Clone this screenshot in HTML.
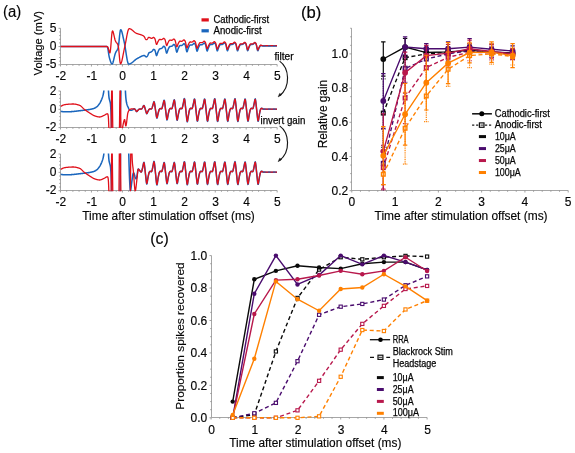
<!DOCTYPE html><html><head><meta charset="utf-8"><style>html,body{margin:0;padding:0;background:#fff;width:575px;height:453px;overflow:hidden;position:relative}</style></head><body><svg width="575" height="453" viewBox="0 0 575 453" style="position:absolute;left:0;top:0;font-family:'Liberation Sans', sans-serif;filter:blur(0.3px)">
<rect width="575" height="453" fill="#ffffff"/>
<defs>
<clipPath id="ca0"><rect x="60.5" y="27.8" width="217.65" height="37.5"/></clipPath>
<clipPath id="ca1"><rect x="60.5" y="90.5" width="217.65" height="37.6"/></clipPath>
<clipPath id="ca2"><rect x="60.5" y="153.5" width="217.65" height="37.7"/></clipPath>
</defs>
<path d="M60.5 28.3 V64.5 H277.15" stroke="#a6a6a6" stroke-width="1" fill="none"/>
<path d="M60.5 28.3 h-2 M60.5 31.95 h-1.3 M60.5 35.6 h-1.3 M60.5 39.25 h-1.3 M60.5 42.9 h-1.3 M60.5 46.55 h-2 M60.5 50.2 h-1.3 M60.5 53.85 h-1.3 M60.5 57.5 h-1.3 M60.5 61.15 h-1.3 M60.5 64.8 h-2 M60.5 64.5 v2 M66.69 64.5 v1.3 M72.88 64.5 v1.3 M79.07 64.5 v1.3 M85.26 64.5 v1.3 M91.45 64.5 v2 M97.64 64.5 v1.3 M103.83 64.5 v1.3 M110.02 64.5 v1.3 M116.21 64.5 v1.3 M122.4 64.5 v2 M128.59 64.5 v1.3 M134.78 64.5 v1.3 M140.97 64.5 v1.3 M147.16 64.5 v1.3 M153.35 64.5 v2 M159.54 64.5 v1.3 M165.73 64.5 v1.3 M171.92 64.5 v1.3 M178.11 64.5 v1.3 M184.3 64.5 v2 M190.49 64.5 v1.3 M196.68 64.5 v1.3 M202.87 64.5 v1.3 M209.06 64.5 v1.3 M215.25 64.5 v2 M221.44 64.5 v1.3 M227.63 64.5 v1.3 M233.82 64.5 v1.3 M240.01 64.5 v1.3 M246.2 64.5 v2 M252.39 64.5 v1.3 M258.58 64.5 v1.3 M264.77 64.5 v1.3 M270.96 64.5 v1.3 M277.15 64.5 v2" stroke="#8a8a8a" stroke-width="0.8" fill="none"/>
<text x="56.5" y="31.9" font-size="12" text-anchor="end" fill="#050505" stroke="#050505" stroke-width="0.15" >5</text>
<text x="56.5" y="50.1" font-size="12" text-anchor="end" fill="#050505" stroke="#050505" stroke-width="0.15" >0</text>
<text x="56.5" y="68.4" font-size="12" text-anchor="end" fill="#050505" stroke="#050505" stroke-width="0.15" >-5</text>
<text x="60.8" y="80.1" font-size="12" text-anchor="middle" fill="#050505" stroke="#050505" stroke-width="0.15" >-2</text>
<text x="91.75" y="80.1" font-size="12" text-anchor="middle" fill="#050505" stroke="#050505" stroke-width="0.15" >-1</text>
<text x="122.7" y="80.1" font-size="12" text-anchor="middle" fill="#050505" stroke="#050505" stroke-width="0.15" >0</text>
<text x="153.65" y="80.1" font-size="12" text-anchor="middle" fill="#050505" stroke="#050505" stroke-width="0.15" >1</text>
<text x="184.6" y="80.1" font-size="12" text-anchor="middle" fill="#050505" stroke="#050505" stroke-width="0.15" >2</text>
<text x="215.55" y="80.1" font-size="12" text-anchor="middle" fill="#050505" stroke="#050505" stroke-width="0.15" >3</text>
<text x="246.5" y="80.1" font-size="12" text-anchor="middle" fill="#050505" stroke="#050505" stroke-width="0.15" >4</text>
<text x="277.45" y="80.1" font-size="12" text-anchor="middle" fill="#050505" stroke="#050505" stroke-width="0.15" >5</text>
<path d="M60.5 91 V127.5 H277.15" stroke="#a6a6a6" stroke-width="1" fill="none"/>
<path d="M60.5 91 h-2 M60.5 94.66 h-1.3 M60.5 98.32 h-1.3 M60.5 101.98 h-1.3 M60.5 105.64 h-1.3 M60.5 109.3 h-2 M60.5 112.96 h-1.3 M60.5 116.62 h-1.3 M60.5 120.28 h-1.3 M60.5 123.94 h-1.3 M60.5 127.6 h-2 M60.5 127.5 v2 M66.69 127.5 v1.3 M72.88 127.5 v1.3 M79.07 127.5 v1.3 M85.26 127.5 v1.3 M91.45 127.5 v2 M97.64 127.5 v1.3 M103.83 127.5 v1.3 M110.02 127.5 v1.3 M116.21 127.5 v1.3 M122.4 127.5 v2 M128.59 127.5 v1.3 M134.78 127.5 v1.3 M140.97 127.5 v1.3 M147.16 127.5 v1.3 M153.35 127.5 v2 M159.54 127.5 v1.3 M165.73 127.5 v1.3 M171.92 127.5 v1.3 M178.11 127.5 v1.3 M184.3 127.5 v2 M190.49 127.5 v1.3 M196.68 127.5 v1.3 M202.87 127.5 v1.3 M209.06 127.5 v1.3 M215.25 127.5 v2 M221.44 127.5 v1.3 M227.63 127.5 v1.3 M233.82 127.5 v1.3 M240.01 127.5 v1.3 M246.2 127.5 v2 M252.39 127.5 v1.3 M258.58 127.5 v1.3 M264.77 127.5 v1.3 M270.96 127.5 v1.3 M277.15 127.5 v2" stroke="#8a8a8a" stroke-width="0.8" fill="none"/>
<text x="56.5" y="94.6" font-size="12" text-anchor="end" fill="#050505" stroke="#050505" stroke-width="0.15" >2</text>
<text x="56.5" y="112.8" font-size="12" text-anchor="end" fill="#050505" stroke="#050505" stroke-width="0.15" >0</text>
<text x="56.5" y="131.2" font-size="12" text-anchor="end" fill="#050505" stroke="#050505" stroke-width="0.15" >-2</text>
<text x="60.8" y="142.9" font-size="12" text-anchor="middle" fill="#050505" stroke="#050505" stroke-width="0.15" >-2</text>
<text x="91.75" y="142.9" font-size="12" text-anchor="middle" fill="#050505" stroke="#050505" stroke-width="0.15" >-1</text>
<text x="122.7" y="142.9" font-size="12" text-anchor="middle" fill="#050505" stroke="#050505" stroke-width="0.15" >0</text>
<text x="153.65" y="142.9" font-size="12" text-anchor="middle" fill="#050505" stroke="#050505" stroke-width="0.15" >1</text>
<text x="184.6" y="142.9" font-size="12" text-anchor="middle" fill="#050505" stroke="#050505" stroke-width="0.15" >2</text>
<text x="215.55" y="142.9" font-size="12" text-anchor="middle" fill="#050505" stroke="#050505" stroke-width="0.15" >3</text>
<text x="246.5" y="142.9" font-size="12" text-anchor="middle" fill="#050505" stroke="#050505" stroke-width="0.15" >4</text>
<text x="277.45" y="142.9" font-size="12" text-anchor="middle" fill="#050505" stroke="#050505" stroke-width="0.15" >5</text>
<path d="M60.5 154 V190.5 H277.15" stroke="#a6a6a6" stroke-width="1" fill="none"/>
<path d="M60.5 154 h-2 M60.5 157.67 h-1.3 M60.5 161.34 h-1.3 M60.5 165.01 h-1.3 M60.5 168.68 h-1.3 M60.5 172.35 h-2 M60.5 176.02 h-1.3 M60.5 179.69 h-1.3 M60.5 183.36 h-1.3 M60.5 187.03 h-1.3 M60.5 190.7 h-2 M60.5 190.5 v2 M66.69 190.5 v1.3 M72.88 190.5 v1.3 M79.07 190.5 v1.3 M85.26 190.5 v1.3 M91.45 190.5 v2 M97.64 190.5 v1.3 M103.83 190.5 v1.3 M110.02 190.5 v1.3 M116.21 190.5 v1.3 M122.4 190.5 v2 M128.59 190.5 v1.3 M134.78 190.5 v1.3 M140.97 190.5 v1.3 M147.16 190.5 v1.3 M153.35 190.5 v2 M159.54 190.5 v1.3 M165.73 190.5 v1.3 M171.92 190.5 v1.3 M178.11 190.5 v1.3 M184.3 190.5 v2 M190.49 190.5 v1.3 M196.68 190.5 v1.3 M202.87 190.5 v1.3 M209.06 190.5 v1.3 M215.25 190.5 v2 M221.44 190.5 v1.3 M227.63 190.5 v1.3 M233.82 190.5 v1.3 M240.01 190.5 v1.3 M246.2 190.5 v2 M252.39 190.5 v1.3 M258.58 190.5 v1.3 M264.77 190.5 v1.3 M270.96 190.5 v1.3 M277.15 190.5 v2" stroke="#8a8a8a" stroke-width="0.8" fill="none"/>
<text x="56.5" y="157.6" font-size="12" text-anchor="end" fill="#050505" stroke="#050505" stroke-width="0.15" >2</text>
<text x="56.5" y="175.8" font-size="12" text-anchor="end" fill="#050505" stroke="#050505" stroke-width="0.15" >0</text>
<text x="56.5" y="194.3" font-size="12" text-anchor="end" fill="#050505" stroke="#050505" stroke-width="0.15" >-2</text>
<text x="60.8" y="206" font-size="12" text-anchor="middle" fill="#050505" stroke="#050505" stroke-width="0.15" >-2</text>
<text x="91.75" y="206" font-size="12" text-anchor="middle" fill="#050505" stroke="#050505" stroke-width="0.15" >-1</text>
<text x="122.7" y="206" font-size="12" text-anchor="middle" fill="#050505" stroke="#050505" stroke-width="0.15" >0</text>
<text x="153.65" y="206" font-size="12" text-anchor="middle" fill="#050505" stroke="#050505" stroke-width="0.15" >1</text>
<text x="184.6" y="206" font-size="12" text-anchor="middle" fill="#050505" stroke="#050505" stroke-width="0.15" >2</text>
<text x="215.55" y="206" font-size="12" text-anchor="middle" fill="#050505" stroke="#050505" stroke-width="0.15" >3</text>
<text x="246.5" y="206" font-size="12" text-anchor="middle" fill="#050505" stroke="#050505" stroke-width="0.15" >4</text>
<text x="277.45" y="206" font-size="12" text-anchor="middle" fill="#050505" stroke="#050505" stroke-width="0.15" >5</text>
<g clip-path="url(#ca0)" fill="none" stroke-linejoin="round">
<path d="M60.5 46.5 L60.75 46.5 L61 46.5 L61.25 46.5 L61.5 46.5 L61.75 46.5 L62 46.5 L62.25 46.5 L62.5 46.5 L62.75 46.5 L63 46.5 L63.25 46.5 L63.5 46.5 L63.75 46.5 L64 46.5 L64.25 46.5 L64.5 46.5 L64.75 46.5 L65 46.5 L65.25 46.5 L65.5 46.5 L65.75 46.5 L66 46.5 L66.25 46.5 L66.5 46.5 L66.75 46.5 L67 46.5 L67.25 46.5 L67.5 46.5 L67.75 46.5 L68 46.5 L68.25 46.5 L68.5 46.5 L68.75 46.5 L69 46.5 L69.25 46.5 L69.5 46.5 L69.75 46.5 L70 46.5 L70.25 46.5 L70.5 46.5 L70.75 46.5 L71 46.5 L71.25 46.5 L71.5 46.5 L71.75 46.5 L72 46.5 L72.25 46.5 L72.5 46.5 L72.75 46.5 L73 46.5 L73.25 46.5 L73.5 46.5 L73.75 46.5 L74 46.5 L74.25 46.5 L74.5 46.5 L74.75 46.5 L75 46.5 L75.25 46.5 L75.5 46.5 L75.75 46.5 L76 46.5 L76.25 46.5 L76.5 46.5 L76.75 46.5 L77 46.5 L77.25 46.5 L77.5 46.5 L77.75 46.5 L78 46.5 L78.25 46.5 L78.5 46.5 L78.75 46.5 L79 46.5 L79.25 46.5 L79.5 46.5 L79.75 46.5 L80 46.5 L80.25 46.5 L80.5 46.5 L80.75 46.5 L81 46.5 L81.25 46.5 L81.5 46.5 L81.75 46.5 L82 46.5 L82.25 46.5 L82.5 46.5 L82.75 46.5 L83 46.5 L83.25 46.5 L83.5 46.5 L83.75 46.5 L84 46.5 L84.25 46.5 L84.5 46.5 L84.75 46.5 L85 46.5 L85.25 46.5 L85.5 46.5 L85.75 46.5 L86 46.5 L86.25 46.5 L86.5 46.5 L86.75 46.5 L87 46.5 L87.25 46.5 L87.5 46.5 L87.75 46.5 L88 46.5 L88.25 46.5 L88.5 46.5 L88.75 46.5 L89 46.5 L89.25 46.5 L89.5 46.5 L89.75 46.5 L90 46.5 L90.25 46.5 L90.5 46.5 L90.75 46.5 L91 46.5 L91.25 46.5 L91.5 46.5 L91.75 46.5 L92 46.5 L92.25 46.5 L92.5 46.5 L92.75 46.5 L93 46.5 L93.25 46.5 L93.5 46.5 L93.75 46.5 L94 46.5 L94.25 46.5 L94.5 46.5 L94.75 46.5 L95 46.5 L95.25 46.5 L95.5 46.5 L95.75 46.5 L96 46.5 L96.25 46.5 L96.5 46.5 L96.75 46.5 L97 46.5 L97.25 46.5 L97.5 46.5 L97.75 46.5 L98 46.5 L98.25 46.5 L98.5 46.5 L98.75 46.5 L99 46.5 L99.25 46.5 L99.5 46.5 L99.75 46.5 L100 46.5 L100.25 46.5 L100.5 46.5 L100.75 46.5 L101 46.5 L101.25 46.5 L101.5 46.5 L101.75 46.5 L102 46.5 L102.25 46.5 L102.5 46.5 L102.75 46.5 L103 46.5 L103.25 46.5 L103.5 46.5 L103.75 46.5 L104 46.5 L104.25 46.5 L104.5 46.5 L104.75 46.5 L105 46.5 L105.25 46.5 L105.5 46.5 L105.75 46.5 L106 46.5 L106.25 46.5 L106.5 46.5 L106.75 46.51 L107 46.54 L107.25 46.7 L107.5 47.14 L107.75 48 L108 49.29 L108.25 50.89 L108.5 52.63 L108.75 54.34 L109 55.86 L109.25 57.11 L109.5 58.12 L109.75 59.01 L110 59.84 L110.25 60.63 L110.5 61.38 L110.75 62.06 L111 62.66 L111.25 63.17 L111.5 63.57 L111.75 63.84 L112 63.95 L112.25 63.88 L112.5 63.6 L112.75 63.1 L113 62.42 L113.25 61.58 L113.5 60.62 L113.75 59.58 L114 58.49 L114.25 57.39 L114.5 56.32 L114.75 55.31 L115 54.4 L115.25 53.61 L115.5 52.94 L115.75 52.38 L116 51.9 L116.25 51.47 L116.5 51.06 L116.75 50.67 L117 50.26 L117.25 49.82 L117.5 49.33 L117.75 48.76 L118 48.05 L118.25 47.07 L118.5 45.69 L118.75 43.84 L119 41.59 L119.25 39.12 L119.5 36.62 L119.75 34.27 L120 32.28 L120.25 30.81 L120.5 29.97 L120.75 29.69 L121 29.82 L121.25 30.21 L121.5 30.78 L121.75 31.5 L122 32.35 L122.25 33.29 L122.5 34.33 L122.75 35.42 L123 36.56 L123.25 37.72 L123.5 38.88 L123.75 40.02 L124 41.14 L124.25 42.27 L124.5 43.46 L124.75 44.77 L125 46.2 L125.25 47.72 L125.5 49.33 L125.75 50.97 L126 52.64 L126.25 54.29 L126.5 55.9 L126.75 57.44 L127 58.89 L127.25 60.2 L127.5 61.36 L127.75 62.33 L128 63.1 L128.25 63.62 L128.5 63.92 L128.75 64.04 L129 64.05 L129.25 64.02 L129.5 63.96 L129.75 63.89 L130 63.8 L130.25 63.69 L130.5 63.57 L130.75 63.44 L131 63.29 L131.25 63.13 L131.5 62.97 L131.75 62.79 L132 62.61 L132.25 62.42 L132.5 62.22 L132.75 62.01 L133 61.81 L133.25 61.6 L133.5 61.38 L133.75 61.17 L134 60.95 L134.25 60.73 L134.5 60.52 L134.75 60.31 L135 60.1 L135.25 59.9 L135.5 59.7 L135.75 59.51 L136 59.32 L136.25 59.14 L136.5 58.97 L136.75 58.82 L137 58.67 L137.25 58.53 L137.5 58.4 L137.75 58.26 L138 58.13 L138.25 57.99 L138.5 57.85 L138.75 57.71 L139 57.57 L139.25 57.43 L139.5 57.28 L139.75 57.14 L140 57 L140.25 56.87 L140.5 56.73 L140.75 56.6 L141 56.48 L141.25 56.36 L141.5 56.24 L141.75 56.13 L142 56.03 L142.25 55.93 L142.5 55.85 L142.75 55.77 L143 55.7 L143.25 55.64 L143.5 55.59 L143.75 55.55 L144 55.53 L144.25 55.53 L144.5 55.59 L144.75 55.72 L145 55.93 L145.25 56.19 L145.5 56.47 L145.75 56.7 L146 56.86 L146.25 56.92 L146.5 56.88 L146.75 56.74 L147 56.52 L147.25 56.22 L147.5 55.85 L147.75 55.4 L148 54.88 L148.25 54.3 L148.5 53.7 L148.75 53.15 L149 52.76 L149.25 52.57 L149.5 52.49 L149.75 52.44 L150 52.38 L150.25 52.31 L150.5 52.21 L150.75 52.1 L151 51.97 L151.25 51.82 L151.5 51.65 L151.75 51.44 L152 51.2 L152.25 50.92 L152.5 50.61 L152.75 50.28 L153 49.95 L153.25 49.65 L153.5 49.44 L153.75 49.37 L154 49.42 L154.25 49.55 L154.5 49.72 L154.75 49.96 L155 50.42 L155.25 51.19 L155.5 52.17 L155.75 53.22 L156 54.26 L156.25 55.15 L156.5 55.6 L156.75 55.43 L157 54.82 L157.25 54.05 L157.5 53.28 L157.75 52.55 L158 51.9 L158.25 51.32 L158.5 50.76 L158.75 50.22 L159 49.71 L159.25 49.3 L159.5 49.04 L159.75 48.9 L160 48.81 L160.25 48.74 L160.5 48.67 L160.75 48.6 L161 48.53 L161.25 48.46 L161.5 48.37 L161.75 48.24 L162 48.06 L162.25 47.83 L162.5 47.55 L162.75 47.25 L163 46.94 L163.25 46.64 L163.5 46.39 L163.75 46.27 L164 46.31 L164.25 46.46 L164.5 46.65 L164.75 46.91 L165 47.32 L165.25 48 L165.5 48.96 L165.75 50.07 L166 51.21 L166.25 52.26 L166.5 52.99 L166.75 53.15 L167 52.76 L167.25 52.06 L167.5 51.27 L167.75 50.51 L168 49.81 L168.25 49.19 L168.5 48.62 L168.75 48.07 L169 47.54 L169.25 47.08 L169.5 46.75 L169.75 46.57 L170 46.49 L170.25 46.45 L170.5 46.42 L170.75 46.39 L171 46.36 L171.25 46.34 L171.5 46.3 L171.75 46.23 L172 46.1 L172.25 45.92 L172.5 45.69 L172.75 45.43 L173 45.14 L173.25 44.86 L173.5 44.61 L173.75 44.46 L174 44.46 L174.25 44.61 L174.5 44.83 L174.75 45.09 L175 45.45 L175.25 46.05 L175.5 46.98 L175.75 48.15 L176 49.39 L176.25 50.61 L176.5 51.65 L176.75 52.19 L177 52.05 L177.25 51.43 L177.5 50.65 L177.75 49.86 L178 49.12 L178.25 48.47 L178.5 47.89 L178.75 47.34 L179 46.8 L179.25 46.3 L179.5 45.91 L179.75 45.69 L180 45.6 L180.25 45.57 L180.5 45.55 L180.75 45.53 L181 45.52 L181.25 45.5 L181.5 45.48 L181.75 45.44 L182 45.35 L182.25 45.2 L182.5 45 L182.75 44.75 L183 44.47 L183.25 44.18 L183.5 43.91 L183.75 43.69 L184 43.62 L184.25 43.72 L184.5 43.94 L184.75 44.21 L185 44.55 L185.25 45.06 L185.5 45.89 L185.75 47.01 L186 48.29 L186.25 49.59 L186.5 50.79 L186.75 51.63 L187 51.83 L187.25 51.42 L187.5 50.69 L187.75 49.87 L188 49.07 L188.25 48.35 L188.5 47.72 L188.75 47.14 L189 46.57 L189.25 46.04 L189.5 45.57 L189.75 45.26 L190 45.11 L190.25 45.07 L190.5 45.05 L190.75 45.04 L191 45.03 L191.25 45.02 L191.5 45.01 L191.75 44.99 L192 44.94 L192.25 44.83 L192.5 44.66 L192.75 44.45 L193 44.2 L193.25 43.93 L193.5 43.67 L193.75 43.43 L194 43.3 L194.25 43.33 L194.5 43.5 L194.75 43.74 L195 44.02 L195.25 44.4 L195.5 45.02 L195.75 45.98 L196 47.17 L196.25 48.42 L196.5 49.65 L196.75 50.69 L197 51.21 L197.25 51.07 L197.5 50.45 L197.75 49.68 L198 48.91 L198.25 48.18 L198.5 47.55 L198.75 46.98 L199 46.44 L199.25 45.92 L199.5 45.43 L199.75 45.06 L200 44.86 L200.25 44.78 L200.5 44.76 L200.75 44.76 L201 44.75 L201.25 44.75 L201.5 44.74 L201.75 44.73 L202 44.7 L202.25 44.62 L202.5 44.49 L202.75 44.3 L203 44.07 L203.25 43.81 L203.5 43.55 L203.75 43.3 L204 43.11 L204.25 43.05 L204.5 43.16 L204.75 43.38 L205 43.65 L205.25 43.98 L205.5 44.49 L205.75 45.29 L206 46.38 L206.25 47.61 L206.5 48.86 L206.75 50 L207 50.79 L207.25 50.96 L207.5 50.56 L207.75 49.86 L208 49.09 L208.25 48.34 L208.5 47.66 L208.75 47.07 L209 46.52 L209.25 45.99 L209.5 45.48 L209.75 45.06 L210 44.77 L210.25 44.64 L210.5 44.6 L210.75 44.6 L211 44.59 L211.25 44.59 L211.5 44.59 L211.75 44.58 L212 44.57 L212.25 44.52 L212.5 44.41 L212.75 44.25 L213 44.04 L213.25 43.79 L213.5 43.53 L213.75 43.27 L214 43.05 L214.25 42.92 L214.5 42.96 L214.75 43.14 L215 43.39 L215.25 43.68 L215.5 44.07 L215.75 44.72 L216 45.69 L216.25 46.88 L216.5 48.14 L216.75 49.37 L217 50.39 L217.25 50.89 L217.5 50.73 L217.75 50.11 L218 49.35 L218.25 48.57 L218.5 47.86 L218.75 47.23 L219 46.67 L219.25 46.14 L219.5 45.62 L219.75 45.14 L220 44.77 L220.25 44.58 L220.5 44.52 L220.75 44.5 L221 44.5 L221.25 44.5 L221.5 44.5 L221.75 44.49 L222 44.49 L222.25 44.46 L222.5 44.38 L222.75 44.25 L223 44.06 L223.25 43.83 L223.5 43.58 L223.75 43.32 L224 43.07 L224.25 42.89 L224.5 42.84 L224.75 42.96 L225 43.19 L225.25 43.46 L225.5 43.8 L225.75 44.32 L226 45.14 L226.25 46.23 L226.5 47.47 L226.75 48.72 L227 49.86 L227.25 50.63 L227.5 50.77 L227.75 50.36 L228 49.65 L228.25 48.88 L228.5 48.14 L228.75 47.47 L229 46.88 L229.25 46.33 L229.5 45.81 L229.75 45.31 L230 44.89 L230.25 44.61 L230.5 44.49 L230.75 44.45 L231 44.45 L231.25 44.45 L231.5 44.45 L231.75 44.45 L232 44.44 L232.25 44.43 L232.5 44.38 L232.75 44.28 L233 44.11 L233.25 43.9 L233.5 43.65 L233.75 43.39 L234 43.14 L234.25 42.91 L234.5 42.8 L234.75 42.85 L235 43.03 L235.25 43.28 L235.5 43.58 L235.75 43.98 L236 44.64 L236.25 45.63 L236.5 46.82 L236.75 48.09 L237 49.31 L237.25 50.31 L237.5 50.79 L237.75 50.6 L238 49.98 L238.25 49.22 L238.5 48.45 L238.75 47.74 L239 47.11 L239.25 46.56 L239.5 46.02 L239.75 45.5 L240 45.03 L240.25 44.67 L240.5 44.49 L240.75 44.43 L241 44.42 L241.25 44.42 L241.5 44.42 L241.75 44.42 L242 44.41 L242.25 44.41 L242.5 44.38 L242.75 44.3 L243 44.17 L243.25 43.98 L243.5 43.75 L243.75 43.49 L244 43.23 L244.25 42.99 L244.5 42.81 L244.75 42.78 L245 42.9 L245.25 43.13 L245.5 43.4 L245.75 43.74 L246 44.28 L246.25 45.11 L246.5 46.22 L246.75 47.46 L247 48.71 L247.25 49.85 L247.5 50.59 L247.75 50.71 L248 50.28 L248.25 49.57 L248.5 48.8 L248.75 48.06 L249 47.39 L249.25 46.8 L249.5 46.26 L249.75 45.74 L250 45.24 L250.25 44.82 L250.5 44.55 L250.75 44.44 L251 44.41 L251.25 44.4 L251.5 44.4 L251.75 44.4 L252 44.4 L252.25 44.4 L252.5 44.38 L252.75 44.33 L253 44.23 L253.25 44.06 L253.5 43.85 L253.75 43.6 L254 43.34 L254.25 43.09 L254.5 42.87 L254.75 42.76 L255 42.81 L255.25 43 L255.5 43.26 L255.75 43.55 L256 43.97 L256.25 44.65 L256.5 45.64 L256.75 46.84 L257 48.1 L257.25 49.32 L257.5 50.3 L257.75 50.76 L258 50.59 L258.25 50.03 L258.5 49.35 L258.75 48.67 L259 48.06 L259.25 47.54 L259.5 47.08 L259.75 46.65 L260 46.22 L260.25 45.84 L260.5 45.59 L260.75 45.51 L261 45.55 L261.25 45.64 L261.5 45.73 L261.75 45.82 L262 45.88 L262.25 45.92 L262.5 45.93 L262.75 45.93 L263 45.93 L263.25 45.93 L263.5 45.93 L263.75 45.93 L264 45.93 L264.25 45.93 L264.5 45.93 L264.75 45.93 L265 45.93 L265.25 45.92 L265.5 45.92 L265.75 45.92 L266 45.92 L266.25 45.92 L266.5 45.92 L266.75 45.92 L267 45.92 L267.25 45.92 L267.5 45.92 L267.75 45.92 L268 45.92 L268.25 45.92 L268.5 45.92 L268.75 45.92 L269 45.92 L269.25 45.92 L269.5 45.92 L269.75 45.92 L270 45.92 L270.25 45.92 L270.5 45.92 L270.75 45.92 L271 45.92 L271.25 45.92 L271.5 45.92 L271.75 45.92 L272 45.92 L272.25 45.92 L272.5 45.92 L272.75 45.92 L273 45.92 L273.25 45.92 L273.5 45.92 L273.75 45.92 L274 45.92 L274.25 45.92 L274.5 45.92 L274.75 45.92 L275 45.92 L275.25 45.92 L275.5 45.92 L275.75 45.92 L276 45.92 L276.25 45.92 L276.5 45.92 L276.75 45.92 L277 45.92" stroke="#1a66bd" stroke-width="1.5"/>
<path d="M60.5 46.5 L60.75 46.5 L61 46.5 L61.25 46.5 L61.5 46.5 L61.75 46.5 L62 46.5 L62.25 46.5 L62.5 46.5 L62.75 46.5 L63 46.5 L63.25 46.5 L63.5 46.5 L63.75 46.5 L64 46.5 L64.25 46.5 L64.5 46.5 L64.75 46.5 L65 46.5 L65.25 46.5 L65.5 46.5 L65.75 46.5 L66 46.5 L66.25 46.5 L66.5 46.5 L66.75 46.5 L67 46.5 L67.25 46.5 L67.5 46.5 L67.75 46.5 L68 46.5 L68.25 46.5 L68.5 46.5 L68.75 46.5 L69 46.5 L69.25 46.5 L69.5 46.5 L69.75 46.5 L70 46.5 L70.25 46.5 L70.5 46.5 L70.75 46.5 L71 46.5 L71.25 46.5 L71.5 46.5 L71.75 46.5 L72 46.5 L72.25 46.5 L72.5 46.5 L72.75 46.5 L73 46.5 L73.25 46.5 L73.5 46.5 L73.75 46.5 L74 46.5 L74.25 46.5 L74.5 46.5 L74.75 46.5 L75 46.5 L75.25 46.5 L75.5 46.5 L75.75 46.5 L76 46.5 L76.25 46.5 L76.5 46.5 L76.75 46.5 L77 46.5 L77.25 46.5 L77.5 46.5 L77.75 46.5 L78 46.5 L78.25 46.5 L78.5 46.5 L78.75 46.5 L79 46.5 L79.25 46.5 L79.5 46.5 L79.75 46.5 L80 46.5 L80.25 46.5 L80.5 46.5 L80.75 46.5 L81 46.5 L81.25 46.5 L81.5 46.5 L81.75 46.5 L82 46.5 L82.25 46.5 L82.5 46.5 L82.75 46.5 L83 46.5 L83.25 46.5 L83.5 46.5 L83.75 46.5 L84 46.5 L84.25 46.5 L84.5 46.5 L84.75 46.5 L85 46.5 L85.25 46.5 L85.5 46.5 L85.75 46.5 L86 46.5 L86.25 46.5 L86.5 46.5 L86.75 46.5 L87 46.5 L87.25 46.5 L87.5 46.5 L87.75 46.5 L88 46.5 L88.25 46.5 L88.5 46.5 L88.75 46.5 L89 46.5 L89.25 46.5 L89.5 46.5 L89.75 46.5 L90 46.5 L90.25 46.5 L90.5 46.5 L90.75 46.5 L91 46.5 L91.25 46.5 L91.5 46.5 L91.75 46.5 L92 46.5 L92.25 46.5 L92.5 46.5 L92.75 46.5 L93 46.5 L93.25 46.5 L93.5 46.5 L93.75 46.5 L94 46.5 L94.25 46.5 L94.5 46.5 L94.75 46.5 L95 46.5 L95.25 46.5 L95.5 46.5 L95.75 46.5 L96 46.5 L96.25 46.5 L96.5 46.5 L96.75 46.5 L97 46.5 L97.25 46.5 L97.5 46.5 L97.75 46.5 L98 46.5 L98.25 46.5 L98.5 46.5 L98.75 46.5 L99 46.5 L99.25 46.5 L99.5 46.5 L99.75 46.5 L100 46.5 L100.25 46.5 L100.5 46.5 L100.75 46.5 L101 46.5 L101.25 46.5 L101.5 46.5 L101.75 46.5 L102 46.5 L102.25 46.5 L102.5 46.5 L102.75 46.5 L103 46.5 L103.25 46.5 L103.5 46.5 L103.75 46.5 L104 46.5 L104.25 46.5 L104.5 46.5 L104.75 46.5 L105 46.5 L105.25 46.5 L105.5 46.5 L105.75 46.5 L106 46.5 L106.25 46.5 L106.5 46.5 L106.75 46.5 L107 46.52 L107.25 46.58 L107.5 46.75 L107.75 47.09 L108 47.6 L108.25 48.24 L108.5 48.96 L108.75 49.74 L109 50.63 L109.25 51.58 L109.5 52.45 L109.75 52.94 L110 52.75 L110.25 51.68 L110.5 49.73 L110.75 47.09 L111 44 L111.25 40.75 L111.5 37.6 L111.75 34.85 L112 32.73 L112.25 31.43 L112.5 30.94 L112.75 31.05 L113 31.55 L113.25 32.31 L113.5 33.24 L113.75 34.3 L114 35.43 L114.25 36.59 L114.5 37.73 L114.75 38.78 L115 39.72 L115.25 40.5 L115.5 41.12 L115.75 41.6 L116 42 L116.25 42.35 L116.5 42.65 L116.75 42.95 L117 43.26 L117.25 43.59 L117.5 43.97 L117.75 44.44 L118 45.07 L118.25 46.01 L118.5 47.48 L118.75 49.54 L119 52.09 L119.25 54.88 L119.5 57.65 L119.75 60.13 L120 62.05 L120.25 63.25 L120.5 63.74 L120.75 63.71 L121 63.36 L121.25 62.81 L121.5 62.09 L121.75 61.23 L122 60.25 L122.25 59.16 L122.5 57.99 L122.75 56.75 L123 55.47 L123.25 54.16 L123.5 52.84 L123.75 51.53 L124 50.25 L124.25 49.02 L124.5 47.85 L124.75 46.72 L125 45.59 L125.25 44.42 L125.5 43.18 L125.75 41.88 L126 40.54 L126.25 39.17 L126.5 37.8 L126.75 36.45 L127 35.14 L127.25 33.9 L127.5 32.74 L127.75 31.69 L128 30.77 L128.25 29.99 L128.5 29.39 L128.75 28.97 L129 28.74 L129.25 28.65 L129.5 28.65 L129.75 28.7 L130 28.77 L130.25 28.86 L130.5 28.97 L130.75 29.1 L131 29.24 L131.25 29.4 L131.5 29.57 L131.75 29.75 L132 29.94 L132.25 30.14 L132.5 30.34 L132.75 30.55 L133 30.77 L133.25 30.99 L133.5 31.2 L133.75 31.42 L134 31.63 L134.25 31.84 L134.5 32.05 L134.75 32.25 L135 32.44 L135.25 32.62 L135.5 32.79 L135.75 32.94 L136 33.09 L136.25 33.22 L136.5 33.33 L136.75 33.44 L137 33.55 L137.25 33.64 L137.5 33.74 L137.75 33.82 L138 33.9 L138.25 33.98 L138.5 34.06 L138.75 34.13 L139 34.2 L139.25 34.27 L139.5 34.34 L139.75 34.41 L140 34.48 L140.25 34.56 L140.5 34.63 L140.75 34.71 L141 34.79 L141.25 34.88 L141.5 34.97 L141.75 35.06 L142 35.17 L142.25 35.27 L142.5 35.39 L142.75 35.51 L143 35.65 L143.25 35.79 L143.5 35.95 L143.75 36.13 L144 36.36 L144.25 36.68 L144.5 37.09 L144.75 37.57 L145 38.08 L145.25 38.59 L145.5 39.04 L145.75 39.39 L146 39.62 L146.25 39.72 L146.5 39.71 L146.75 39.61 L147 39.44 L147.25 39.2 L147.5 38.89 L147.75 38.51 L148 38.08 L148.25 37.68 L148.5 37.42 L148.75 37.34 L149 37.37 L149.25 37.43 L149.5 37.52 L149.75 37.62 L150 37.73 L150.25 37.84 L150.5 37.96 L150.75 38.08 L151 38.2 L151.25 38.32 L151.5 38.38 L151.75 38.38 L152 38.3 L152.25 38.16 L152.5 38 L152.75 37.82 L153 37.64 L153.25 37.48 L153.5 37.4 L153.75 37.45 L154 37.62 L154.25 37.85 L154.5 38.12 L154.75 38.46 L155 38.99 L155.25 39.81 L155.5 40.83 L155.75 41.91 L156 42.98 L156.25 43.91 L156.5 44.43 L156.75 44.37 L157 43.9 L157.25 43.29 L157.5 42.67 L157.75 42.1 L158 41.6 L158.25 41.15 L158.5 40.73 L158.75 40.32 L159 39.94 L159.25 39.65 L159.5 39.5 L159.75 39.45 L160 39.46 L160.25 39.48 L160.5 39.5 L160.75 39.53 L161 39.55 L161.25 39.56 L161.5 39.56 L161.75 39.52 L162 39.44 L162.25 39.3 L162.5 39.12 L162.75 38.92 L163 38.71 L163.25 38.5 L163.5 38.35 L163.75 38.31 L164 38.42 L164.25 38.63 L164.5 38.89 L164.75 39.19 L165 39.64 L165.25 40.35 L165.5 41.3 L165.75 42.4 L166 43.52 L166.25 44.56 L166.5 45.3 L166.75 45.51 L167 45.21 L167.25 44.63 L167.5 43.96 L167.75 43.32 L168 42.73 L168.25 42.22 L168.5 41.75 L168.75 41.3 L169 40.87 L169.25 40.5 L169.5 40.25 L169.75 40.15 L170 40.13 L170.25 40.15 L170.5 40.18 L170.75 40.21 L171 40.24 L171.25 40.26 L171.5 40.28 L171.75 40.27 L172 40.21 L172.25 40.1 L172.5 39.93 L172.75 39.74 L173 39.53 L173.25 39.32 L173.5 39.13 L173.75 39.04 L174 39.09 L174.25 39.28 L174.5 39.53 L174.75 39.82 L175 40.2 L175.25 40.8 L175.5 41.71 L175.75 42.83 L176 44.03 L176.25 45.21 L176.5 46.21 L176.75 46.76 L177 46.67 L177.25 46.14 L177.5 45.46 L177.75 44.77 L178 44.13 L178.25 43.56 L178.5 43.07 L178.75 42.59 L179 42.14 L179.25 41.71 L179.5 41.39 L179.75 41.23 L180 41.18 L180.25 41.19 L180.5 41.21 L180.75 41.23 L181 41.25 L181.25 41.28 L181.5 41.29 L181.75 41.29 L182 41.24 L182.25 41.14 L182.5 40.99 L182.75 40.79 L183 40.56 L183.25 40.33 L183.5 40.11 L183.75 39.95 L184 39.91 L184.25 40.04 L184.5 40.27 L184.75 40.56 L185 40.9 L185.25 41.41 L185.5 42.2 L185.75 43.27 L186 44.48 L186.25 45.72 L186.5 46.87 L186.75 47.67 L187 47.88 L187.25 47.53 L187.5 46.88 L187.75 46.15 L188 45.44 L188.25 44.81 L188.5 44.25 L188.75 43.73 L189 43.24 L189.25 42.77 L189.5 42.37 L189.75 42.1 L190 41.99 L190.25 41.97 L190.5 41.99 L190.75 42 L191 42.02 L191.25 42.03 L191.5 42.05 L191.75 42.05 L192 42.03 L192.25 41.95 L192.5 41.82 L192.75 41.65 L193 41.44 L193.25 41.21 L193.5 40.99 L193.75 40.8 L194 40.7 L194.25 40.74 L194.5 40.92 L194.75 41.17 L195 41.45 L195.25 41.82 L195.5 42.42 L195.75 43.33 L196 44.45 L196.25 45.63 L196.5 46.79 L196.75 47.77 L197 48.28 L197.25 48.16 L197.5 47.61 L197.75 46.92 L198 46.22 L198.25 45.57 L198.5 45 L198.75 44.49 L199 44.01 L199.25 43.54 L199.5 43.11 L199.75 42.79 L200 42.62 L200.25 42.57 L200.5 42.57 L200.75 42.58 L201 42.59 L201.25 42.6 L201.5 42.62 L201.75 42.62 L202 42.61 L202.25 42.56 L202.5 42.45 L202.75 42.29 L203 42.09 L203.25 41.87 L203.5 41.64 L203.75 41.42 L204 41.26 L204.25 41.23 L204.5 41.35 L204.75 41.57 L205 41.83 L205.25 42.15 L205.5 42.63 L205.75 43.4 L206 44.41 L206.25 45.57 L206.5 46.74 L206.75 47.81 L207 48.55 L207.25 48.72 L207.5 48.37 L207.75 47.73 L208 47.03 L208.25 46.35 L208.5 45.74 L208.75 45.2 L209 44.71 L209.25 44.23 L209.5 43.78 L209.75 43.39 L210 43.14 L210.25 43.03 L210.5 43.01 L210.75 43.02 L211 43.03 L211.25 43.04 L211.5 43.04 L211.75 43.05 L212 43.05 L212.25 43.02 L212.5 42.93 L212.75 42.79 L213 42.61 L213.25 42.39 L213.5 42.16 L213.75 41.93 L214 41.73 L214.25 41.63 L214.5 41.68 L214.75 41.85 L215 42.09 L215.25 42.37 L215.5 42.75 L215.75 43.36 L216 44.27 L216.25 45.38 L216.5 46.56 L216.75 47.7 L217 48.66 L217.25 49.13 L217.5 48.99 L217.75 48.43 L218 47.73 L218.25 47.03 L218.5 46.37 L218.75 45.8 L219 45.29 L219.25 44.81 L219.5 44.33 L219.75 43.9 L220 43.57 L220.25 43.4 L220.5 43.35 L220.75 43.35 L221 43.35 L221.25 43.36 L221.5 43.37 L221.75 43.37 L222 43.37 L222.25 43.35 L222.5 43.29 L222.75 43.18 L223 43.02 L223.25 42.81 L223.5 42.58 L223.75 42.35 L224 42.13 L224.25 41.97 L224.5 41.93 L224.75 42.05 L225 42.27 L225.25 42.53 L225.5 42.85 L225.75 43.34 L226 44.1 L226.25 45.13 L226.5 46.28 L226.75 47.45 L227 48.51 L227.25 49.22 L227.5 49.37 L227.75 48.99 L228 48.34 L228.25 47.64 L228.5 46.95 L228.75 46.34 L229 45.8 L229.25 45.3 L229.5 44.82 L229.75 44.37 L230 43.98 L230.25 43.73 L230.5 43.63 L230.75 43.6 L231 43.6 L231.25 43.61 L231.5 43.61 L231.75 43.62 L232 43.62 L232.25 43.61 L232.5 43.57 L232.75 43.48 L233 43.34 L233.25 43.15 L233.5 42.93 L233.75 42.69 L234 42.46 L234.25 42.26 L234.5 42.16 L234.75 42.21 L235 42.38 L235.25 42.62 L235.5 42.9 L235.75 43.28 L236 43.9 L236.25 44.82 L236.5 45.93 L236.75 47.1 L237 48.24 L237.25 49.17 L237.5 49.62 L237.75 49.46 L238 48.89 L238.25 48.18 L238.5 47.47 L238.75 46.82 L239 46.25 L239.25 45.74 L239.5 45.25 L239.75 44.77 L240 44.34 L240.25 44.01 L240.5 43.85 L240.75 43.8 L241 43.79 L241.25 43.79 L241.5 43.8 L241.75 43.8 L242 43.81 L242.25 43.8 L242.5 43.78 L242.75 43.71 L243 43.59 L243.25 43.42 L243.5 43.21 L243.75 42.98 L244 42.75 L244.25 42.53 L244.5 42.37 L244.75 42.34 L245 42.46 L245.25 42.67 L245.5 42.93 L245.75 43.25 L246 43.74 L246.25 44.52 L246.5 45.55 L246.75 46.7 L247 47.87 L247.25 48.92 L247.5 49.62 L247.75 49.73 L248 49.33 L248.25 48.68 L248.5 47.97 L248.75 47.29 L249 46.67 L249.25 46.13 L249.5 45.63 L249.75 45.15 L250 44.69 L250.25 44.31 L250.5 44.07 L250.75 43.96 L251 43.94 L251.25 43.94 L251.5 43.94 L251.75 43.94 L252 43.94 L252.25 43.95 L252.5 43.94 L252.75 43.89 L253 43.8 L253.25 43.65 L253.5 43.45 L253.75 43.23 L254 42.99 L254.25 42.76 L254.5 42.56 L254.75 42.46 L255 42.51 L255.25 42.69 L255.5 42.93 L255.75 43.21 L256 43.6 L256.25 44.23 L256.5 45.15 L256.75 46.26 L257 47.43 L257.25 48.56 L257.5 49.47 L257.75 49.9 L258 49.75 L258.25 49.24 L258.5 48.62 L258.75 48 L259 47.45 L259.25 46.97 L259.5 46.56 L259.75 46.17 L260 45.78 L260.25 45.44 L260.5 45.22 L260.75 45.15 L261 45.2 L261.25 45.29 L261.5 45.39 L261.75 45.48 L262 45.54 L262.25 45.58 L262.5 45.59 L262.75 45.59 L263 45.6 L263.25 45.6 L263.5 45.6 L263.75 45.6 L264 45.6 L264.25 45.61 L264.5 45.61 L264.75 45.61 L265 45.61 L265.25 45.62 L265.5 45.62 L265.75 45.62 L266 45.62 L266.25 45.62 L266.5 45.63 L266.75 45.63 L267 45.63 L267.25 45.63 L267.5 45.63 L267.75 45.64 L268 45.64 L268.25 45.64 L268.5 45.64 L268.75 45.64 L269 45.64 L269.25 45.65 L269.5 45.65 L269.75 45.65 L270 45.65 L270.25 45.65 L270.5 45.66 L270.75 45.66 L271 45.66 L271.25 45.66 L271.5 45.66 L271.75 45.66 L272 45.67 L272.25 45.67 L272.5 45.67 L272.75 45.67 L273 45.67 L273.25 45.67 L273.5 45.68 L273.75 45.68 L274 45.68 L274.25 45.68 L274.5 45.68 L274.75 45.68 L275 45.69 L275.25 45.69 L275.5 45.69 L275.75 45.69 L276 45.69 L276.25 45.69 L276.5 45.7 L276.75 45.7 L277 45.7" stroke="#e0101a" stroke-width="1.3"/>
</g>
<g clip-path="url(#ca1)" fill="none" stroke-linejoin="round">
<path d="M60.5 111.32 L60.75 111.35 L61 111.39 L61.25 111.43 L61.5 111.47 L61.75 111.51 L62 111.54 L62.25 111.58 L62.5 111.61 L62.75 111.65 L63 111.68 L63.25 111.7 L63.5 111.73 L63.75 111.75 L64 111.76 L64.25 111.78 L64.5 111.79 L64.75 111.8 L65 111.8 L65.25 111.8 L65.5 111.8 L65.75 111.8 L66 111.79 L66.25 111.79 L66.5 111.79 L66.75 111.78 L67 111.78 L67.25 111.77 L67.5 111.77 L67.75 111.76 L68 111.76 L68.25 111.75 L68.5 111.74 L68.75 111.74 L69 111.73 L69.25 111.72 L69.5 111.72 L69.75 111.71 L70 111.7 L70.25 111.69 L70.5 111.68 L70.75 111.67 L71 111.66 L71.25 111.64 L71.5 111.63 L71.75 111.61 L72 111.59 L72.25 111.57 L72.5 111.55 L72.75 111.53 L73 111.51 L73.25 111.48 L73.5 111.46 L73.75 111.43 L74 111.41 L74.25 111.38 L74.5 111.35 L74.75 111.33 L75 111.3 L75.25 111.27 L75.5 111.24 L75.75 111.21 L76 111.18 L76.25 111.15 L76.5 111.12 L76.75 111.09 L77 111.06 L77.25 111.03 L77.5 111 L77.75 110.97 L78 110.94 L78.25 110.9 L78.5 110.87 L78.75 110.84 L79 110.81 L79.25 110.79 L79.5 110.76 L79.75 110.73 L80 110.7 L80.25 110.67 L80.5 110.64 L80.75 110.62 L81 110.59 L81.25 110.56 L81.5 110.53 L81.75 110.5 L82 110.47 L82.25 110.44 L82.5 110.41 L82.75 110.38 L83 110.35 L83.25 110.32 L83.5 110.29 L83.75 110.26 L84 110.23 L84.25 110.2 L84.5 110.16 L84.75 110.13 L85 110.1 L85.25 110.07 L85.5 110.04 L85.75 110 L86 109.97 L86.25 109.94 L86.5 109.91 L86.75 109.88 L87 109.85 L87.25 109.81 L87.5 109.78 L87.75 109.75 L88 109.71 L88.25 109.68 L88.5 109.64 L88.75 109.61 L89 109.57 L89.25 109.53 L89.5 109.49 L89.75 109.44 L90 109.4 L90.25 109.35 L90.5 109.31 L90.75 109.26 L91 109.21 L91.25 109.16 L91.5 109.1 L91.75 109.05 L92 108.99 L92.25 108.93 L92.5 108.86 L92.75 108.79 L93 108.72 L93.25 108.65 L93.5 108.57 L93.75 108.48 L94 108.39 L94.25 108.3 L94.5 108.19 L94.75 108.07 L95 107.95 L95.25 107.81 L95.5 107.66 L95.75 107.5 L96 107.34 L96.25 107.17 L96.5 106.98 L96.75 106.79 L97 106.59 L97.25 106.37 L97.5 106.13 L97.75 105.87 L98 105.59 L98.25 105.29 L98.5 104.98 L98.75 104.65 L99 104.31 L99.25 103.96 L99.5 103.59 L99.75 103.21 L100 102.82 L100.25 102.4 L100.5 101.95 L100.75 101.47 L101 100.95 L101.25 100.39 L101.5 99.8 L101.75 99.19 L102 98.53 L102.25 97.83 L102.5 97.06 L102.75 96.22 L103 95.28 L103.25 94.23 L103.5 93.04 L103.75 91.56 L104 89.17 L104.25 84.85 L104.5 78.85 L104.75 73.61 L105 70.92 L105.25 70.13 L105.5 70.01 L105.75 70 L106 70 L106.25 70 L106.5 70 L106.75 70 L107 70 L107.25 70.02 L107.5 70.28 L107.75 71.81 L108 76.45 L108.25 83.97 L108.5 90.96 L108.75 95.26 L109 97.52 L109.25 98.86 L109.5 99.85 L109.75 100.7 L110 101.5 L110.25 102.49 L110.5 104.22 L110.75 107.39 L111 112.28 L111.25 118.47 L111.5 125.09 L111.75 131.16 L112 135.77 L112.25 138.5 L112.5 139.64 L112.75 139.95 L113 140 L113.25 140 L113.5 140 L113.75 140 L114 140 L114.25 140 L114.5 140 L114.75 140 L115 140 L115.25 140 L115.5 140 L115.75 140 L116 140 L116.25 140 L116.5 140 L116.75 140 L117 140 L117.25 140 L117.5 140 L117.75 140 L118 140 L118.25 140 L118.5 140 L118.75 139.95 L119 139.66 L119.25 138.54 L119.5 135.8 L119.75 130.96 L120 124.15 L120.25 115.9 L120.5 106.85 L120.75 97.66 L121 89.01 L121.25 81.55 L121.5 75.88 L121.75 72.33 L122 70.66 L122.25 70.13 L122.5 70.01 L122.75 70 L123 70 L123.25 70 L123.5 70 L123.75 70 L124 70 L124.25 70.03 L124.5 70.35 L124.75 72.2 L125 77.59 L125.25 85.79 L125.5 92.75 L125.75 96.82 L126 99.27 L126.25 101.08 L126.5 102.51 L126.75 103.66 L127 104.57 L127.25 105.3 L127.5 105.91 L127.75 106.46 L128 106.99 L128.25 107.53 L128.5 108.07 L128.75 108.59 L129 109.08 L129.25 109.5 L129.5 109.84 L129.75 110.08 L130 110.22 L130.25 110.28 L130.5 110.29 L130.75 110.29 L131 110.27 L131.25 110.25 L131.5 110.21 L131.75 110.16 L132 110.09 L132.25 110 L132.5 109.89 L132.75 109.75 L133 109.59 L133.25 109.4 L133.5 109.19 L133.75 108.99 L134 108.85 L134.25 108.8 L134.5 108.85 L134.75 108.98 L135 109.2 L135.25 109.49 L135.5 109.87 L135.75 110.32 L136 110.8 L136.25 111.25 L136.5 111.55 L136.75 111.6 L137 111.43 L137.25 111.13 L137.5 110.81 L137.75 110.49 L138 110.2 L138.25 109.94 L138.5 109.69 L138.75 109.47 L139 109.3 L139.25 109.19 L139.5 109.11 L139.75 109.05 L140 109.02 L140.25 109.01 L140.5 109.03 L140.75 109.06 L141 109.08 L141.25 109.06 L141.5 108.97 L141.75 108.77 L142 108.46 L142.25 108.08 L142.5 107.68 L142.75 107.25 L143 106.78 L143.25 106.28 L143.5 105.8 L143.75 105.44 L144 105.42 L144.25 105.84 L144.5 106.57 L144.75 107.4 L145 108.25 L145.25 109.12 L145.5 110 L145.75 110.89 L146 111.78 L146.25 112.64 L146.5 113.36 L146.75 113.71 L147 113.56 L147.25 113.07 L147.5 112.47 L147.75 111.87 L148 111.31 L148.25 110.8 L148.5 110.31 L148.75 109.87 L149 109.51 L149.25 109.27 L149.5 109.1 L149.75 108.97 L150 108.88 L150.25 108.85 L150.5 108.87 L150.75 108.92 L151 108.96 L151.25 108.98 L151.5 108.89 L151.75 108.58 L152 108.04 L152.25 107.33 L152.5 106.55 L152.75 105.72 L153 104.82 L153.25 103.84 L153.5 102.85 L153.75 102 L154 101.63 L154.25 102.05 L154.5 103.23 L154.75 104.8 L155 106.48 L155.25 108.2 L155.5 109.95 L155.75 111.72 L156 113.51 L156.25 115.27 L156.5 116.86 L156.75 117.92 L157 118.09 L157.25 117.42 L157.5 116.31 L157.75 115.1 L158 113.94 L158.25 112.87 L158.5 111.88 L158.75 110.96 L159 110.16 L159.25 109.56 L159.5 109.16 L159.75 108.86 L160 108.64 L160.25 108.52 L160.5 108.51 L160.75 108.59 L161 108.69 L161.25 108.77 L161.5 108.78 L161.75 108.6 L162 108.13 L162.25 107.4 L162.5 106.51 L162.75 105.55 L163 104.52 L163.25 103.4 L163.5 102.21 L163.75 101.08 L164 100.26 L164.25 100.25 L164.5 101.28 L164.75 103.02 L165 105 L165.25 107.03 L165.5 109.08 L165.75 111.18 L166 113.3 L166.25 115.42 L166.5 117.46 L166.75 119.13 L167 119.91 L167.25 119.52 L167.5 118.34 L167.75 116.91 L168 115.5 L168.25 114.17 L168.5 112.95 L168.75 111.81 L169 110.76 L169.25 109.92 L169.5 109.34 L169.75 108.95 L170 108.65 L170.25 108.44 L170.5 108.38 L170.75 108.43 L171 108.54 L171.25 108.65 L171.5 108.74 L171.75 108.69 L172 108.36 L172.25 107.71 L172.5 106.84 L172.75 105.87 L173 104.83 L173.25 103.7 L173.5 102.49 L173.75 101.26 L174 100.22 L174.25 99.78 L174.5 100.35 L174.75 101.85 L175 103.81 L175.25 105.91 L175.5 108.05 L175.75 110.22 L176 112.42 L176.25 114.64 L176.5 116.83 L176.75 118.8 L177 120.08 L177.25 120.24 L177.5 119.37 L177.75 117.98 L178 116.47 L178.25 115.03 L178.5 113.72 L178.75 112.49 L179 111.34 L179.25 110.36 L179.5 109.63 L179.75 109.13 L180 108.77 L180.25 108.5 L180.5 108.35 L180.75 108.35 L181 108.45 L181.25 108.57 L181.5 108.67 L181.75 108.69 L182 108.47 L182.25 107.91 L182.5 107.03 L182.75 105.97 L183 104.84 L183.25 103.62 L183.5 102.29 L183.75 100.89 L184 99.56 L184.25 98.63 L184.5 98.67 L184.75 99.92 L185 101.98 L185.25 104.33 L185.5 106.73 L185.75 109.16 L186 111.64 L186.25 114.14 L186.5 116.65 L186.75 119.05 L187 120.98 L187.25 121.84 L187.5 121.34 L187.75 119.94 L188 118.25 L188.25 116.57 L188.5 115.02 L188.75 113.58 L189 112.23 L189.25 111 L189.5 110.02 L189.75 109.35 L190 108.89 L190.25 108.53 L190.5 108.3 L190.75 108.22 L191 108.29 L191.25 108.42 L191.5 108.56 L191.75 108.66 L192 108.62 L192.25 108.26 L192.5 107.55 L192.75 106.6 L193 105.53 L193.25 104.4 L193.5 103.17 L193.75 101.85 L194 100.52 L194.25 99.39 L194.5 98.95 L194.75 99.63 L195 101.28 L195.25 103.43 L195.5 105.71 L195.75 108.04 L196 110.4 L196.25 112.8 L196.5 115.21 L196.75 117.59 L197 119.72 L197.25 121.07 L197.5 121.18 L197.75 120.2 L198 118.68 L198.25 117.04 L198.5 115.48 L198.75 114.05 L199 112.72 L199.25 111.48 L199.5 110.42 L199.75 109.64 L200 109.11 L200.25 108.72 L200.5 108.43 L200.75 108.27 L201 108.28 L201.25 108.39 L201.5 108.52 L201.75 108.64 L202 108.67 L202.25 108.46 L202.5 107.92 L202.75 107.07 L203 106.05 L203.25 104.96 L203.5 103.79 L203.75 102.5 L204 101.16 L204.25 99.89 L204.5 99.03 L204.75 99.12 L205 100.36 L205.25 102.35 L205.5 104.61 L205.75 106.91 L206 109.26 L206.25 111.64 L206.5 114.05 L206.75 116.46 L207 118.75 L207.25 120.57 L207.5 121.34 L207.75 120.82 L208 119.46 L208.25 117.83 L208.5 116.23 L208.75 114.74 L209 113.36 L209.25 112.06 L209.5 110.89 L209.75 109.96 L210 109.33 L210.25 108.89 L210.5 108.55 L210.75 108.32 L211 108.26 L211.25 108.33 L211.5 108.46 L211.75 108.59 L212 108.68 L212.25 108.62 L212.5 108.24 L212.75 107.49 L213 106.5 L213.25 105.42 L213.5 104.26 L213.75 103 L214 101.65 L214.25 100.29 L214.5 99.16 L214.75 98.74 L215 99.48 L215.25 101.21 L215.5 103.4 L215.75 105.74 L216 108.11 L216.25 110.52 L216.5 112.97 L216.75 115.43 L217 117.85 L217.25 120.01 L217.5 121.35 L217.75 121.41 L218 120.37 L218.25 118.8 L218.5 117.14 L218.75 115.55 L219 114.1 L219.25 112.74 L219.5 111.48 L219.75 110.4 L220 109.62 L220.25 109.09 L220.5 108.69 L220.75 108.4 L221 108.26 L221.25 108.27 L221.5 108.37 L221.75 108.51 L222 108.63 L222.25 108.66 L222.5 108.45 L222.75 107.89 L223 107.03 L223.25 106.01 L223.5 104.92 L223.75 103.74 L224 102.45 L224.25 101.1 L224.5 99.85 L224.75 99.03 L225 99.16 L225.25 100.43 L225.5 102.44 L225.75 104.7 L226 107.01 L226.25 109.35 L226.5 111.74 L226.75 114.15 L227 116.55 L227.25 118.83 L227.5 120.61 L227.75 121.33 L228 120.77 L228.25 119.39 L228.5 117.77 L228.75 116.17 L229 114.68 L229.25 113.31 L229.5 112.02 L229.75 110.85 L230 109.94 L230.25 109.31 L230.5 108.87 L230.75 108.53 L231 108.31 L231.25 108.26 L231.5 108.33 L231.75 108.46 L232 108.6 L232.25 108.69 L232.5 108.61 L232.75 108.22 L233 107.46 L233.25 106.46 L233.5 105.37 L233.75 104.21 L234 102.95 L234.25 101.6 L234.5 100.24 L234.75 99.11 L235 98.74 L235.25 99.52 L235.5 101.28 L235.75 103.5 L236 105.83 L236.25 108.21 L236.5 110.62 L236.75 113.07 L237 115.53 L237.25 117.95 L237.5 120.09 L237.75 121.4 L238 121.4 L238.25 120.31 L238.5 118.74 L238.75 117.07 L239 115.49 L239.25 114.04 L239.5 112.69 L239.75 111.43 L240 110.36 L240.25 109.59 L240.5 109.07 L240.75 108.68 L241 108.39 L241.25 108.25 L241.5 108.27 L241.75 108.38 L242 108.52 L242.25 108.64 L242.5 108.65 L242.75 108.43 L243 107.86 L243.25 106.99 L243.5 105.97 L243.75 104.87 L244 103.69 L244.25 102.4 L244.5 101.05 L244.75 99.81 L245 99.02 L245.25 99.2 L245.5 100.51 L245.75 102.53 L246 104.79 L246.25 107.1 L246.5 109.45 L246.75 111.83 L247 114.24 L247.25 116.65 L247.5 118.91 L247.75 120.65 L248 121.32 L248.25 120.72 L248.5 119.33 L248.75 117.7 L249 116.1 L249.25 114.62 L249.5 113.25 L249.75 111.97 L250 110.81 L250.25 109.91 L250.5 109.29 L250.75 108.86 L251 108.52 L251.25 108.31 L251.5 108.26 L251.75 108.34 L252 108.47 L252.25 108.6 L252.5 108.69 L252.75 108.62 L253 108.22 L253.25 107.46 L253.5 106.48 L253.75 105.4 L254 104.26 L254.25 103.02 L254.5 101.69 L254.75 100.36 L255 99.27 L255.25 98.93 L255.5 99.76 L255.75 101.52 L256 103.7 L256.25 105.99 L256.5 108.32 L256.75 110.69 L257 113.09 L257.25 115.5 L257.5 117.87 L257.75 119.96 L258 121.2 L258.25 121.15 L258.5 120.04 L258.75 118.49 L259 116.86 L259.25 115.31 L259.5 113.89 L259.75 112.57 L260 111.33 L260.25 110.3 L260.5 109.55 L260.75 109.05 L261 108.68 L261.25 108.4 L261.5 108.27 L261.75 108.29 L262 108.4 L262.25 108.54 L262.5 108.7 L262.75 108.89 L263 109.06 L263.25 109.16 L263.5 109.19 L263.75 109.2 L264 109.2 L264.25 109.2 L264.5 109.2 L264.75 109.2 L265 109.2 L265.25 109.2 L265.5 109.2 L265.75 109.2 L266 109.2 L266.25 109.2 L266.5 109.2 L266.75 109.2 L267 109.2 L267.25 109.2 L267.5 109.2 L267.75 109.2 L268 109.2 L268.25 109.2 L268.5 109.2 L268.75 109.2 L269 109.2 L269.25 109.2 L269.5 109.2 L269.75 109.2 L270 109.2 L270.25 109.2 L270.5 109.2 L270.75 109.2 L271 109.2 L271.25 109.2 L271.5 109.2 L271.75 109.2 L272 109.2 L272.25 109.2 L272.5 109.2 L272.75 109.2 L273 109.2 L273.25 109.2 L273.5 109.2 L273.75 109.2 L274 109.2 L274.25 109.2 L274.5 109.2 L274.75 109.2 L275 109.2 L275.25 109.2 L275.5 109.2 L275.75 109.2 L276 109.2 L276.25 109.2 L276.5 109.2 L276.75 109.2 L277 109.2" stroke="#1a66bd" stroke-width="1.55"/>
<path d="M60.5 106.44 L60.75 106.35 L61 106.22 L61.25 106.09 L61.5 105.95 L61.75 105.82 L62 105.69 L62.25 105.56 L62.5 105.44 L62.75 105.32 L63 105.21 L63.25 105.1 L63.5 105.01 L63.75 104.92 L64 104.83 L64.25 104.76 L64.5 104.7 L64.75 104.65 L65 104.6 L65.25 104.57 L65.5 104.53 L65.75 104.5 L66 104.47 L66.25 104.44 L66.5 104.41 L66.75 104.38 L67 104.36 L67.25 104.33 L67.5 104.3 L67.75 104.28 L68 104.25 L68.25 104.23 L68.5 104.21 L68.75 104.19 L69 104.17 L69.25 104.15 L69.5 104.13 L69.75 104.11 L70 104.1 L70.25 104.08 L70.5 104.07 L70.75 104.06 L71 104.05 L71.25 104.04 L71.5 104.03 L71.75 104.02 L72 104.01 L72.25 104.01 L72.5 104 L72.75 104 L73 104 L73.25 104 L73.5 104.01 L73.75 104.02 L74 104.04 L74.25 104.05 L74.5 104.08 L74.75 104.11 L75 104.14 L75.25 104.18 L75.5 104.22 L75.75 104.26 L76 104.31 L76.25 104.36 L76.5 104.42 L76.75 104.48 L77 104.54 L77.25 104.61 L77.5 104.68 L77.75 104.75 L78 104.82 L78.25 104.9 L78.5 104.98 L78.75 105.06 L79 105.14 L79.25 105.23 L79.5 105.32 L79.75 105.41 L80 105.51 L80.25 105.63 L80.5 105.78 L80.75 105.95 L81 106.15 L81.25 106.37 L81.5 106.61 L81.75 106.86 L82 107.12 L82.25 107.38 L82.5 107.65 L82.75 107.91 L83 108.16 L83.25 108.4 L83.5 108.62 L83.75 108.83 L84 109.03 L84.25 109.23 L84.5 109.42 L84.75 109.61 L85 109.8 L85.25 109.99 L85.5 110.17 L85.75 110.35 L86 110.53 L86.25 110.71 L86.5 110.89 L86.75 111.07 L87 111.24 L87.25 111.41 L87.5 111.58 L87.75 111.75 L88 111.92 L88.25 112.08 L88.5 112.25 L88.75 112.41 L89 112.57 L89.25 112.73 L89.5 112.89 L89.75 113.04 L90 113.2 L90.25 113.36 L90.5 113.52 L90.75 113.68 L91 113.84 L91.25 114 L91.5 114.16 L91.75 114.32 L92 114.48 L92.25 114.64 L92.5 114.79 L92.75 114.94 L93 115.08 L93.25 115.22 L93.5 115.36 L93.75 115.48 L94 115.6 L94.25 115.71 L94.5 115.82 L94.75 115.91 L95 116 L95.25 116.08 L95.5 116.16 L95.75 116.23 L96 116.31 L96.25 116.39 L96.5 116.46 L96.75 116.53 L97 116.6 L97.25 116.66 L97.5 116.72 L97.75 116.78 L98 116.83 L98.25 116.87 L98.5 116.91 L98.75 116.94 L99 116.97 L99.25 116.98 L99.5 116.99 L99.75 116.99 L100 116.96 L100.25 116.93 L100.5 116.88 L100.75 116.81 L101 116.74 L101.25 116.65 L101.5 116.55 L101.75 116.45 L102 116.34 L102.25 116.22 L102.5 116.1 L102.75 115.98 L103 115.86 L103.25 115.74 L103.5 115.62 L103.75 115.51 L104 115.4 L104.25 115.27 L104.5 115.14 L104.75 115 L105 114.85 L105.25 114.69 L105.5 114.53 L105.75 114.37 L106 114.22 L106.25 114.09 L106.5 113.97 L106.75 113.87 L107 113.79 L107.25 113.76 L107.5 113.82 L107.75 114.06 L108 114.63 L108.25 116.04 L108.5 119.41 L108.75 125.37 L109 132.25 L109.25 137.19 L109.5 139.35 L109.75 139.91 L110 139.99 L110.25 140 L110.5 139.91 L110.75 139.08 L111 134.67 L111.25 121.79 L111.5 101.27 L111.75 83.94 L112 79.69 L112.25 90 L112.5 109.21 L112.75 126.96 L113 136.48 L113.25 139.43 L113.5 139.95 L113.75 140 L114 140 L114.25 140 L114.5 140 L114.75 140 L115 140 L115.25 140 L115.5 140 L115.75 140 L116 140 L116.25 140 L116.5 140 L116.75 140 L117 140 L117.25 140 L117.5 140 L117.75 140 L118 140 L118.25 140 L118.5 140 L118.75 139.96 L119 139.4 L119.25 135.99 L119.5 124.9 L119.75 105.46 L120 88.04 L120.25 85.05 L120.5 97.69 L120.75 116.47 L121 130.73 L121.25 136.69 L121.5 137.09 L121.75 135.35 L122 133.01 L122.25 130.59 L122.5 128.4 L122.75 126.58 L123 125.1 L123.25 123.83 L123.5 122.66 L123.75 121.59 L124 120.67 L124.25 119.96 L124.5 119.58 L124.75 119.83 L125 121.02 L125.25 122.99 L125.5 124.92 L125.75 125.92 L126 125.73 L126.25 124.67 L126.5 123.12 L126.75 121.24 L127 119.09 L127.25 116.84 L127.5 114.87 L127.75 113.43 L128 112.48 L128.25 111.79 L128.5 111.23 L128.75 110.76 L129 110.35 L129.25 110.01 L129.5 109.74 L129.75 109.53 L130 109.37 L130.25 109.26 L130.5 109.17 L130.75 109.09 L131 109.02 L131.25 108.96 L131.5 108.91 L131.75 108.86 L132 108.83 L132.25 108.82 L132.5 108.82 L132.75 108.84 L133 108.87 L133.25 108.88 L133.5 108.86 L133.75 108.84 L134 108.87 L134.25 108.97 L134.5 109.13 L134.75 109.32 L135 109.54 L135.25 109.77 L135.5 110.05 L135.75 110.39 L136 110.79 L136.25 111.18 L136.5 111.46 L136.75 111.51 L137 111.35 L137.25 111.06 L137.5 110.75 L137.75 110.44 L138 110.17 L138.25 109.91 L138.5 109.67 L138.75 109.46 L139 109.3 L139.25 109.19 L139.5 109.11 L139.75 109.06 L140 109.02 L140.25 109.02 L140.5 109.04 L140.75 109.07 L141 109.08 L141.25 109.07 L141.5 108.98 L141.75 108.78 L142 108.49 L142.25 108.13 L142.5 107.74 L142.75 107.33 L143 106.87 L143.25 106.39 L143.5 105.93 L143.75 105.59 L144 105.57 L144.25 105.97 L144.5 106.67 L144.75 107.47 L145 108.29 L145.25 109.12 L145.5 109.97 L145.75 110.82 L146 111.68 L146.25 112.51 L146.5 113.2 L146.75 113.53 L147 113.39 L147.25 112.92 L147.5 112.34 L147.75 111.77 L148 111.23 L148.25 110.74 L148.5 110.27 L148.75 109.84 L149 109.5 L149.25 109.26 L149.5 109.1 L149.75 108.98 L150 108.9 L150.25 108.87 L150.5 108.89 L150.75 108.93 L151 108.97 L151.25 108.99 L151.5 108.9 L151.75 108.61 L152 108.08 L152.25 107.41 L152.5 106.65 L152.75 105.85 L153 104.98 L153.25 104.05 L153.5 103.1 L153.75 102.28 L154 101.92 L154.25 102.33 L154.5 103.46 L154.75 104.97 L155 106.59 L155.25 108.24 L155.5 109.92 L155.75 111.62 L156 113.34 L156.25 115.03 L156.5 116.57 L156.75 117.59 L157 117.75 L157.25 117.1 L157.5 116.03 L157.75 114.87 L158 113.75 L158.25 112.73 L158.5 111.78 L158.75 110.89 L159 110.12 L159.25 109.55 L159.5 109.16 L159.75 108.88 L160 108.66 L160.25 108.54 L160.5 108.54 L160.75 108.61 L161 108.71 L161.25 108.79 L161.5 108.8 L161.75 108.63 L162 108.17 L162.25 107.47 L162.5 106.61 L162.75 105.69 L163 104.7 L163.25 103.62 L163.5 102.48 L163.75 101.39 L164 100.61 L164.25 100.59 L164.5 101.59 L164.75 103.25 L165 105.16 L165.25 107.11 L165.5 109.09 L165.75 111.1 L166 113.14 L166.25 115.18 L166.5 117.14 L166.75 118.75 L167 119.5 L167.25 119.12 L167.5 117.99 L167.75 116.62 L168 115.25 L168.25 113.98 L168.5 112.81 L168.75 111.71 L169 110.7 L169.25 109.89 L169.5 109.34 L169.75 108.96 L170 108.67 L170.25 108.47 L170.5 108.41 L170.75 108.46 L171 108.56 L171.25 108.67 L171.5 108.75 L171.75 108.71 L172 108.4 L172.25 107.77 L172.5 106.93 L172.75 105.99 L173 105 L173.25 103.91 L173.5 102.75 L173.75 101.57 L174 100.56 L174.25 100.14 L174.5 100.69 L174.75 102.13 L175 104.02 L175.25 106.03 L175.5 108.09 L175.75 110.18 L176 112.3 L176.25 114.43 L176.5 116.54 L176.75 118.43 L177 119.67 L177.25 119.81 L177.5 118.98 L177.75 117.64 L178 116.19 L178.25 114.81 L178.5 113.54 L178.75 112.36 L179 111.26 L179.25 110.31 L179.5 109.61 L179.75 109.13 L180 108.78 L180.25 108.52 L180.5 108.38 L180.75 108.38 L181 108.47 L181.25 108.59 L181.5 108.69 L181.75 108.71 L182 108.5 L182.25 107.96 L182.5 107.11 L182.75 106.1 L183 105.01 L183.25 103.84 L183.5 102.56 L183.75 101.21 L184 99.93 L184.25 99.04 L184.5 99.07 L184.75 100.28 L185 102.26 L185.25 104.51 L185.5 106.82 L185.75 109.16 L186 111.54 L186.25 113.95 L186.5 116.36 L186.75 118.67 L187 120.53 L187.25 121.35 L187.5 120.87 L187.75 119.52 L188 117.9 L188.25 116.29 L188.5 114.79 L188.75 113.41 L189 112.11 L189.25 110.93 L189.5 109.99 L189.75 109.34 L190 108.9 L190.25 108.56 L190.5 108.33 L190.75 108.26 L191 108.33 L191.25 108.45 L191.5 108.58 L191.75 108.68 L192 108.64 L192.25 108.3 L192.5 107.61 L192.75 106.7 L193 105.67 L193.25 104.59 L193.5 103.4 L193.75 102.14 L194 100.85 L194.25 99.77 L194.5 99.35 L194.75 100 L195 101.59 L195.25 103.65 L195.5 105.85 L195.75 108.08 L196 110.35 L196.25 112.66 L196.5 114.98 L196.75 117.27 L197 119.31 L197.25 120.62 L197.5 120.72 L197.75 119.78 L198 118.31 L198.25 116.74 L198.5 115.24 L198.75 113.87 L199 112.59 L199.25 111.39 L199.5 110.37 L199.75 109.62 L200 109.11 L200.25 108.74 L200.5 108.46 L200.75 108.31 L201 108.32 L201.25 108.42 L201.5 108.55 L201.75 108.66 L202 108.69 L202.25 108.49 L202.5 107.97 L202.75 107.15 L203 106.18 L203.25 105.13 L203.5 104 L203.75 102.76 L204 101.47 L204.25 100.25 L204.5 99.42 L204.75 99.5 L205 100.7 L205.25 102.62 L205.5 104.78 L205.75 107 L206 109.25 L206.25 111.55 L206.5 113.86 L206.75 116.18 L207 118.38 L207.25 120.13 L207.5 120.87 L207.75 120.37 L208 119.06 L208.25 117.5 L208.5 115.96 L208.75 114.52 L209 113.2 L209.25 111.95 L209.5 110.83 L209.75 109.93 L210 109.32 L210.25 108.9 L210.5 108.57 L210.75 108.36 L211 108.3 L211.25 108.36 L211.5 108.48 L211.75 108.61 L212 108.7 L212.25 108.64 L212.5 108.27 L212.75 107.55 L213 106.61 L213.25 105.56 L213.5 104.45 L213.75 103.24 L214 101.94 L214.25 100.63 L214.5 99.54 L214.75 99.14 L215 99.85 L215.25 101.51 L215.5 103.63 L215.75 105.87 L216 108.15 L216.25 110.47 L216.5 112.82 L216.75 115.19 L217 117.52 L217.25 119.59 L217.5 120.89 L217.75 120.94 L218 119.94 L218.25 118.43 L218.5 116.83 L218.75 115.31 L219 113.91 L219.25 112.6 L219.5 111.39 L219.75 110.35 L220 109.6 L220.25 109.09 L220.5 108.71 L220.75 108.43 L221 108.29 L221.25 108.3 L221.5 108.41 L221.75 108.54 L222 108.65 L222.25 108.68 L222.5 108.47 L222.75 107.94 L223 107.11 L223.25 106.13 L223.5 105.08 L223.75 103.95 L224 102.71 L224.25 101.42 L224.5 100.21 L224.75 99.42 L225 99.54 L225.25 100.77 L225.5 102.7 L225.75 104.87 L226 107.09 L226.25 109.35 L226.5 111.64 L226.75 113.96 L227 116.27 L227.25 118.46 L227.5 120.17 L227.75 120.86 L228 120.32 L228.25 119 L228.5 117.44 L228.75 115.9 L229 114.47 L229.25 113.15 L229.5 111.91 L229.75 110.79 L230 109.91 L230.25 109.3 L230.5 108.88 L230.75 108.56 L231 108.35 L231.25 108.3 L231.5 108.37 L231.75 108.49 L232 108.62 L232.25 108.71 L232.5 108.64 L232.75 108.26 L233 107.52 L233.25 106.57 L233.5 105.52 L233.75 104.4 L234 103.19 L234.25 101.89 L234.5 100.58 L234.75 99.5 L235 99.14 L235.25 99.9 L235.5 101.59 L235.75 103.72 L236 105.96 L236.25 108.24 L236.5 110.56 L236.75 112.92 L237 115.29 L237.25 117.61 L237.5 119.67 L237.75 120.93 L238 120.93 L238.25 119.89 L238.5 118.37 L238.75 116.77 L239 115.25 L239.25 113.86 L239.5 112.55 L239.75 111.34 L240 110.32 L240.25 109.57 L240.5 109.07 L240.75 108.7 L241 108.43 L241.25 108.29 L241.5 108.31 L241.75 108.41 L242 108.54 L242.25 108.66 L242.5 108.67 L242.75 108.46 L243 107.91 L243.25 107.08 L243.5 106.09 L243.75 105.04 L244 103.9 L244.25 102.66 L244.5 101.36 L244.75 100.17 L245 99.41 L245.25 99.59 L245.5 100.84 L245.75 102.79 L246 104.96 L246.25 107.18 L246.5 109.44 L246.75 111.73 L247 114.05 L247.25 116.36 L247.5 118.54 L247.75 120.21 L248 120.85 L248.25 120.27 L248.5 118.94 L248.75 117.37 L249 115.84 L249.25 114.41 L249.5 113.1 L249.75 111.86 L250 110.75 L250.25 109.88 L250.5 109.28 L250.75 108.87 L251 108.55 L251.25 108.34 L251.5 108.29 L251.75 108.37 L252 108.49 L252.25 108.62 L252.5 108.71 L252.75 108.64 L253 108.26 L253.25 107.53 L253.5 106.58 L253.75 105.55 L254 104.45 L254.25 103.26 L254.5 101.98 L254.75 100.7 L255 99.65 L255.25 99.33 L255.5 100.12 L255.75 101.81 L256 103.91 L256.25 106.11 L256.5 108.35 L256.75 110.63 L257 112.94 L257.25 115.26 L257.5 117.54 L257.75 119.54 L258 120.74 L258.25 120.69 L258.5 119.63 L258.75 118.13 L259 116.56 L259.25 115.08 L259.5 113.71 L259.75 112.44 L260 111.25 L260.25 110.26 L260.5 109.54 L260.75 109.06 L261 108.7 L261.25 108.43 L261.5 108.31 L261.75 108.33 L262 108.43 L262.25 108.57 L262.5 108.72 L262.75 108.9 L263 109.06 L263.25 109.16 L263.5 109.19 L263.75 109.2 L264 109.2 L264.25 109.2 L264.5 109.2 L264.75 109.2 L265 109.2 L265.25 109.2 L265.5 109.2 L265.75 109.2 L266 109.2 L266.25 109.2 L266.5 109.2 L266.75 109.2 L267 109.2 L267.25 109.2 L267.5 109.2 L267.75 109.2 L268 109.2 L268.25 109.2 L268.5 109.2 L268.75 109.2 L269 109.2 L269.25 109.2 L269.5 109.2 L269.75 109.2 L270 109.2 L270.25 109.2 L270.5 109.2 L270.75 109.2 L271 109.2 L271.25 109.2 L271.5 109.2 L271.75 109.2 L272 109.2 L272.25 109.2 L272.5 109.2 L272.75 109.2 L273 109.2 L273.25 109.2 L273.5 109.2 L273.75 109.2 L274 109.2 L274.25 109.2 L274.5 109.2 L274.75 109.2 L275 109.2 L275.25 109.2 L275.5 109.2 L275.75 109.2 L276 109.2 L276.25 109.2 L276.5 109.2 L276.75 109.2 L277 109.2" stroke="#e0101a" stroke-width="1.3"/>
</g>
<g clip-path="url(#ca2)" fill="none" stroke-linejoin="round">
<path d="M60.5 174.32 L60.75 174.35 L61 174.39 L61.25 174.43 L61.5 174.47 L61.75 174.51 L62 174.54 L62.25 174.58 L62.5 174.61 L62.75 174.65 L63 174.68 L63.25 174.7 L63.5 174.73 L63.75 174.75 L64 174.76 L64.25 174.78 L64.5 174.79 L64.75 174.8 L65 174.8 L65.25 174.8 L65.5 174.8 L65.75 174.8 L66 174.79 L66.25 174.79 L66.5 174.79 L66.75 174.78 L67 174.78 L67.25 174.77 L67.5 174.77 L67.75 174.76 L68 174.76 L68.25 174.75 L68.5 174.74 L68.75 174.74 L69 174.73 L69.25 174.72 L69.5 174.72 L69.75 174.71 L70 174.7 L70.25 174.69 L70.5 174.68 L70.75 174.67 L71 174.66 L71.25 174.64 L71.5 174.63 L71.75 174.61 L72 174.59 L72.25 174.57 L72.5 174.55 L72.75 174.53 L73 174.51 L73.25 174.48 L73.5 174.46 L73.75 174.43 L74 174.41 L74.25 174.38 L74.5 174.35 L74.75 174.33 L75 174.3 L75.25 174.27 L75.5 174.24 L75.75 174.21 L76 174.18 L76.25 174.15 L76.5 174.12 L76.75 174.09 L77 174.06 L77.25 174.03 L77.5 174 L77.75 173.97 L78 173.94 L78.25 173.9 L78.5 173.87 L78.75 173.84 L79 173.81 L79.25 173.79 L79.5 173.76 L79.75 173.73 L80 173.7 L80.25 173.67 L80.5 173.64 L80.75 173.62 L81 173.59 L81.25 173.56 L81.5 173.53 L81.75 173.5 L82 173.47 L82.25 173.44 L82.5 173.41 L82.75 173.38 L83 173.35 L83.25 173.32 L83.5 173.29 L83.75 173.26 L84 173.23 L84.25 173.2 L84.5 173.16 L84.75 173.13 L85 173.1 L85.25 173.07 L85.5 173.04 L85.75 173 L86 172.97 L86.25 172.94 L86.5 172.91 L86.75 172.88 L87 172.85 L87.25 172.81 L87.5 172.78 L87.75 172.75 L88 172.71 L88.25 172.68 L88.5 172.64 L88.75 172.61 L89 172.57 L89.25 172.53 L89.5 172.49 L89.75 172.44 L90 172.4 L90.25 172.35 L90.5 172.31 L90.75 172.26 L91 172.21 L91.25 172.16 L91.5 172.1 L91.75 172.05 L92 171.99 L92.25 171.93 L92.5 171.86 L92.75 171.79 L93 171.72 L93.25 171.65 L93.5 171.57 L93.75 171.48 L94 171.39 L94.25 171.3 L94.5 171.19 L94.75 171.07 L95 170.95 L95.25 170.81 L95.5 170.66 L95.75 170.5 L96 170.34 L96.25 170.17 L96.5 169.98 L96.75 169.79 L97 169.59 L97.25 169.37 L97.5 169.13 L97.75 168.87 L98 168.59 L98.25 168.29 L98.5 167.98 L98.75 167.65 L99 167.31 L99.25 166.96 L99.5 166.59 L99.75 166.21 L100 165.82 L100.25 165.4 L100.5 164.95 L100.75 164.47 L101 163.95 L101.25 163.39 L101.5 162.8 L101.75 162.19 L102 161.53 L102.25 160.83 L102.5 160.06 L102.75 159.22 L103 158.28 L103.25 157.23 L103.5 156.04 L103.75 154.56 L104 152.17 L104.25 147.85 L104.5 141.85 L104.75 136.61 L105 133.92 L105.25 133.13 L105.5 133.01 L105.75 133 L106 133 L106.25 133 L106.5 133 L106.75 133 L107 133 L107.25 133.02 L107.5 133.28 L107.75 134.81 L108 139.45 L108.25 146.97 L108.5 153.96 L108.75 158.26 L109 160.52 L109.25 161.86 L109.5 162.85 L109.75 163.7 L110 164.49 L110.25 165.44 L110.5 167.01 L110.75 169.78 L111 174.02 L111.25 179.49 L111.5 185.6 L111.75 191.68 L112 197.12 L112.25 201.55 L112.5 205.09 L112.75 208.12 L113 210.95 L113.25 213.71 L113.5 216.41 L113.75 219.05 L114 221.62 L114.25 224.11 L114.5 226.52 L114.75 228.85 L115 231.08 L115.25 233.22 L115.5 235.25 L115.75 237.18 L116 238.99 L116.25 240.69 L116.5 242.25 L116.75 243.69 L117 245 L117.25 246.16 L117.5 247.17 L117.75 248.03 L118 248.73 L118.25 249.26 L118.5 249.47 L118.75 248.83 L119 245.99 L119.25 239.29 L119.5 228.02 L119.75 212.71 L120 194.57 L120.25 175 L120.5 155.43 L120.75 137.29 L121 121.98 L121.25 110.7 L121.5 103.98 L121.75 101.04 L122 100.18 L122.25 100.02 L122.5 100 L122.75 100 L123 100 L123.25 100 L123.5 100 L123.75 100 L124 100 L124.25 100 L124.5 100 L124.75 100 L125 100 L125.25 100 L125.5 100 L125.75 100 L126 100 L126.25 100 L126.5 100 L126.75 100.01 L127 100.09 L127.25 100.68 L127.5 103.02 L127.75 108.85 L128 118.75 L128.25 131.17 L128.5 143.52 L128.75 154.1 L129 162.89 L129.25 170.57 L129.5 177.41 L129.75 183.19 L130 187.5 L130.25 190.03 L130.5 190.73 L130.75 189.94 L131 188.23 L131.25 186.18 L131.5 184.15 L131.75 182.23 L132 180.36 L132.25 178.52 L132.5 176.77 L132.75 175.23 L133 174 L133.25 173.19 L133.5 172.84 L133.75 172.93 L134 173.36 L134.25 174.04 L134.5 174.88 L134.75 175.8 L135 176.72 L135.25 177.56 L135.5 178.24 L135.75 178.69 L136 178.82 L136.25 178.6 L136.5 178 L136.75 177.05 L137 175.78 L137.25 174.23 L137.5 172.48 L137.75 170.76 L138 169.49 L138.25 169 L138.5 169.08 L138.75 169.35 L139 169.67 L139.25 169.98 L139.5 170.3 L139.75 170.62 L140 170.93 L140.25 171.25 L140.5 171.56 L140.75 171.84 L141 172.01 L141.25 171.98 L141.5 171.68 L141.75 171.09 L142 170.26 L142.25 169.29 L142.5 168.24 L142.75 167.11 L143 165.89 L143.25 164.59 L143.5 163.33 L143.75 162.4 L144 162.34 L144.25 163.44 L144.5 165.33 L144.75 167.5 L145 169.73 L145.25 171.98 L145.5 174.28 L145.75 176.6 L146 178.93 L146.25 181.18 L146.5 183.05 L146.75 183.96 L147 183.57 L147.25 182.29 L147.5 180.73 L147.75 179.17 L148 177.71 L148.25 176.37 L148.5 175.11 L148.75 173.95 L149 173.02 L149.25 172.37 L149.5 171.94 L149.75 171.61 L150 171.38 L150.25 171.3 L150.5 171.35 L150.75 171.47 L151 171.59 L151.25 171.69 L151.5 171.63 L151.75 171.26 L152 170.53 L152.25 169.53 L152.5 168.42 L152.75 167.23 L153 165.95 L153.25 164.56 L153.5 163.15 L153.75 161.93 L154 161.4 L154.25 162 L154.5 163.68 L154.75 165.92 L155 168.32 L155.25 170.78 L155.5 173.27 L155.75 175.79 L156 178.34 L156.25 180.86 L156.5 183.13 L156.75 184.65 L157 184.88 L157.25 183.92 L157.5 182.34 L157.75 180.61 L158 178.96 L158.25 177.44 L158.5 176.03 L158.75 174.71 L159 173.57 L159.25 172.72 L159.5 172.14 L159.75 171.72 L160 171.4 L160.25 171.23 L160.5 171.22 L160.75 171.33 L161 171.47 L161.25 171.6 L161.5 171.66 L161.75 171.51 L162 171.03 L162.25 170.24 L162.5 169.28 L162.75 168.24 L163 167.12 L163.25 165.9 L163.5 164.62 L163.75 163.38 L164 162.5 L164.25 162.49 L164.5 163.6 L164.75 165.49 L165 167.64 L165.25 169.84 L165.5 172.07 L165.75 174.35 L166 176.65 L166.25 178.95 L166.5 181.17 L166.75 182.98 L167 183.82 L167.25 183.4 L167.5 182.12 L167.75 180.57 L168 179.03 L168.25 177.6 L168.5 176.27 L168.75 175.03 L169 173.89 L169.25 172.98 L169.5 172.35 L169.75 171.93 L170 171.6 L170.25 171.38 L170.5 171.3 L170.75 171.36 L171 171.48 L171.25 171.61 L171.5 171.7 L171.75 171.66 L172 171.33 L172.25 170.66 L172.5 169.75 L172.75 168.74 L173 167.66 L173.25 166.49 L173.5 165.23 L173.75 163.96 L174 162.87 L174.25 162.42 L174.5 163.02 L174.75 164.57 L175 166.6 L175.25 168.78 L175.5 171 L175.75 173.26 L176 175.54 L176.25 177.85 L176.5 180.12 L176.75 182.17 L177 183.5 L177.25 183.66 L177.5 182.76 L177.75 181.31 L178 179.75 L178.25 178.26 L178.5 176.89 L178.75 175.61 L179 174.42 L179.25 173.4 L179.5 172.64 L179.75 172.13 L180 171.75 L180.25 171.47 L180.5 171.32 L180.75 171.32 L181 171.42 L181.25 171.54 L181.5 171.66 L181.75 171.68 L182 171.47 L182.25 170.91 L182.5 170.04 L182.75 168.99 L183 167.86 L183.25 166.65 L183.5 165.32 L183.75 163.93 L184 162.6 L184.25 161.68 L184.5 161.71 L184.75 162.96 L185 165.02 L185.25 167.35 L185.5 169.74 L185.75 172.16 L186 174.63 L186.25 177.12 L186.5 179.62 L186.75 182 L187 183.93 L187.25 184.79 L187.5 184.29 L187.75 182.89 L188 181.21 L188.25 179.54 L188.5 177.99 L188.75 176.56 L189 175.22 L189.25 173.99 L189.5 173.02 L189.75 172.35 L190 171.89 L190.25 171.54 L190.5 171.3 L190.75 171.23 L191 171.29 L191.25 171.42 L191.5 171.56 L191.75 171.66 L192 171.62 L192.25 171.26 L192.5 170.54 L192.75 169.58 L193 168.51 L193.25 167.37 L193.5 166.14 L193.75 164.81 L194 163.47 L194.25 162.34 L194.5 161.9 L194.75 162.58 L195 164.24 L195.25 166.4 L195.5 168.69 L195.75 171.03 L196 173.41 L196.25 175.82 L196.5 178.24 L196.75 180.63 L197 182.77 L197.25 184.14 L197.5 184.25 L197.75 183.26 L198 181.73 L198.25 180.09 L198.5 178.52 L198.75 177.08 L199 175.74 L199.25 174.49 L199.5 173.42 L199.75 172.64 L200 172.11 L200.25 171.71 L200.5 171.42 L200.75 171.27 L201 171.28 L201.25 171.38 L201.5 171.52 L201.75 171.63 L202 171.66 L202.25 171.46 L202.5 170.91 L202.75 170.06 L203 169.04 L203.25 167.94 L203.5 166.76 L203.75 165.47 L204 164.11 L204.25 162.84 L204.5 161.98 L204.75 162.06 L205 163.31 L205.25 165.31 L205.5 167.58 L205.75 169.9 L206 172.26 L206.25 174.65 L206.5 177.08 L206.75 179.5 L207 181.8 L207.25 183.63 L207.5 184.41 L207.75 183.88 L208 182.51 L208.25 180.88 L208.5 179.27 L208.75 177.77 L209 176.38 L209.25 175.08 L209.5 173.9 L209.75 172.97 L210 172.33 L210.25 171.88 L210.5 171.54 L210.75 171.32 L211 171.26 L211.25 171.32 L211.5 171.45 L211.75 171.59 L212 171.68 L212.25 171.61 L212.5 171.23 L212.75 170.48 L213 169.49 L213.25 168.4 L213.5 167.23 L213.75 165.97 L214 164.61 L214.25 163.24 L214.5 162.1 L214.75 161.69 L215 162.43 L215.25 164.16 L215.5 166.37 L215.75 168.72 L216 171.1 L216.25 173.53 L216.5 175.99 L216.75 178.46 L217 180.9 L217.25 183.07 L217.5 184.42 L217.75 184.48 L218 183.43 L218.25 181.85 L218.5 180.18 L218.75 178.59 L219 177.12 L219.25 175.76 L219.5 174.49 L219.75 173.41 L220 172.62 L220.25 172.08 L220.5 171.69 L220.75 171.4 L221 171.25 L221.25 171.26 L221.5 171.37 L221.75 171.51 L222 171.63 L222.25 171.65 L222.5 171.44 L222.75 170.88 L223 170.02 L223.25 168.99 L223.5 167.89 L223.75 166.71 L224 165.41 L224.25 164.06 L224.5 162.8 L224.75 161.97 L225 162.1 L225.25 163.39 L225.5 165.4 L225.75 167.67 L226 170 L226.25 172.35 L226.5 174.75 L226.75 177.17 L227 179.59 L227.25 181.88 L227.5 183.67 L227.75 184.39 L228 183.83 L228.25 182.45 L228.5 180.81 L228.75 179.2 L229 177.71 L229.25 176.33 L229.5 175.03 L229.75 173.86 L230 172.94 L230.25 172.31 L230.5 171.87 L230.75 171.53 L231 171.31 L231.25 171.25 L231.5 171.33 L231.75 171.46 L232 171.59 L232.25 171.68 L232.5 171.61 L232.75 171.21 L233 170.45 L233.25 169.45 L233.5 168.35 L233.75 167.18 L234 165.91 L234.25 164.55 L234.5 163.19 L234.75 162.06 L235 161.68 L235.25 162.47 L235.5 164.24 L235.75 166.47 L236 168.81 L236.25 171.2 L236.5 173.63 L236.75 176.09 L237 178.56 L237.25 181 L237.5 183.15 L237.75 184.46 L238 184.46 L238.25 183.37 L238.5 181.79 L238.75 180.12 L239 178.53 L239.25 177.07 L239.5 175.71 L239.75 174.44 L240 173.37 L240.25 172.59 L240.5 172.07 L240.75 171.68 L241 171.39 L241.25 171.25 L241.5 171.27 L241.75 171.38 L242 171.51 L242.25 171.63 L242.5 171.65 L242.75 171.42 L243 170.85 L243.25 169.98 L243.5 168.95 L243.75 167.85 L244 166.66 L244.25 165.36 L244.5 164.01 L244.75 162.75 L245 161.96 L245.25 162.15 L245.5 163.46 L245.75 165.5 L246 167.77 L246.25 170.09 L246.5 172.45 L246.75 174.85 L247 177.27 L247.25 179.69 L247.5 181.96 L247.75 183.72 L248 184.38 L248.25 183.78 L248.5 182.38 L248.75 180.75 L249 179.14 L249.25 177.65 L249.5 176.27 L249.75 174.98 L250 173.82 L250.25 172.91 L250.5 172.29 L250.75 171.85 L251 171.52 L251.25 171.3 L251.5 171.25 L251.75 171.33 L252 171.46 L252.25 171.6 L252.5 171.69 L252.75 171.61 L253 171.21 L253.25 170.45 L253.5 169.46 L253.75 168.38 L254 167.23 L254.25 165.98 L254.5 164.65 L254.75 163.31 L255 162.22 L255.25 161.88 L255.5 162.7 L255.75 164.47 L256 166.67 L256.25 168.97 L256.5 171.31 L256.75 173.69 L257 176.11 L257.25 178.54 L257.5 180.92 L257.75 183.02 L258 184.26 L258.25 184.21 L258.5 183.1 L258.75 181.54 L259 179.9 L259.25 178.34 L259.5 176.92 L259.75 175.59 L260 174.35 L260.25 173.3 L260.5 172.56 L260.75 172.05 L261 171.67 L261.25 171.4 L261.5 171.27 L261.75 171.29 L262 171.4 L262.25 171.54 L262.5 171.7 L262.75 171.89 L263 172.06 L263.25 172.16 L263.5 172.19 L263.75 172.2 L264 172.2 L264.25 172.2 L264.5 172.2 L264.75 172.2 L265 172.2 L265.25 172.2 L265.5 172.2 L265.75 172.2 L266 172.2 L266.25 172.2 L266.5 172.2 L266.75 172.2 L267 172.2 L267.25 172.2 L267.5 172.2 L267.75 172.2 L268 172.2 L268.25 172.2 L268.5 172.2 L268.75 172.2 L269 172.2 L269.25 172.2 L269.5 172.2 L269.75 172.2 L270 172.2 L270.25 172.2 L270.5 172.2 L270.75 172.2 L271 172.2 L271.25 172.2 L271.5 172.2 L271.75 172.2 L272 172.2 L272.25 172.2 L272.5 172.2 L272.75 172.2 L273 172.2 L273.25 172.2 L273.5 172.2 L273.75 172.2 L274 172.2 L274.25 172.2 L274.5 172.2 L274.75 172.2 L275 172.2 L275.25 172.2 L275.5 172.2 L275.75 172.2 L276 172.2 L276.25 172.2 L276.5 172.2 L276.75 172.2 L277 172.2" stroke="#1a66bd" stroke-width="1.55"/>
<path d="M60.5 169.44 L60.75 169.35 L61 169.22 L61.25 169.09 L61.5 168.95 L61.75 168.82 L62 168.69 L62.25 168.56 L62.5 168.44 L62.75 168.32 L63 168.21 L63.25 168.1 L63.5 168.01 L63.75 167.92 L64 167.83 L64.25 167.76 L64.5 167.7 L64.75 167.65 L65 167.6 L65.25 167.57 L65.5 167.53 L65.75 167.5 L66 167.47 L66.25 167.44 L66.5 167.41 L66.75 167.38 L67 167.36 L67.25 167.33 L67.5 167.3 L67.75 167.28 L68 167.25 L68.25 167.23 L68.5 167.21 L68.75 167.19 L69 167.17 L69.25 167.15 L69.5 167.13 L69.75 167.11 L70 167.1 L70.25 167.08 L70.5 167.07 L70.75 167.06 L71 167.05 L71.25 167.04 L71.5 167.03 L71.75 167.02 L72 167.01 L72.25 167.01 L72.5 167 L72.75 167 L73 167 L73.25 167 L73.5 167.01 L73.75 167.02 L74 167.04 L74.25 167.05 L74.5 167.08 L74.75 167.11 L75 167.14 L75.25 167.18 L75.5 167.22 L75.75 167.26 L76 167.31 L76.25 167.36 L76.5 167.42 L76.75 167.48 L77 167.54 L77.25 167.61 L77.5 167.68 L77.75 167.75 L78 167.82 L78.25 167.9 L78.5 167.98 L78.75 168.06 L79 168.14 L79.25 168.23 L79.5 168.32 L79.75 168.41 L80 168.51 L80.25 168.63 L80.5 168.78 L80.75 168.95 L81 169.15 L81.25 169.37 L81.5 169.61 L81.75 169.86 L82 170.12 L82.25 170.38 L82.5 170.65 L82.75 170.91 L83 171.16 L83.25 171.4 L83.5 171.62 L83.75 171.83 L84 172.03 L84.25 172.23 L84.5 172.42 L84.75 172.61 L85 172.8 L85.25 172.99 L85.5 173.17 L85.75 173.35 L86 173.53 L86.25 173.71 L86.5 173.89 L86.75 174.07 L87 174.24 L87.25 174.41 L87.5 174.58 L87.75 174.75 L88 174.92 L88.25 175.08 L88.5 175.25 L88.75 175.41 L89 175.57 L89.25 175.73 L89.5 175.89 L89.75 176.04 L90 176.2 L90.25 176.36 L90.5 176.52 L90.75 176.68 L91 176.84 L91.25 177 L91.5 177.16 L91.75 177.32 L92 177.48 L92.25 177.64 L92.5 177.79 L92.75 177.94 L93 178.08 L93.25 178.22 L93.5 178.36 L93.75 178.48 L94 178.6 L94.25 178.71 L94.5 178.82 L94.75 178.91 L95 179 L95.25 179.08 L95.5 179.16 L95.75 179.23 L96 179.31 L96.25 179.39 L96.5 179.46 L96.75 179.53 L97 179.6 L97.25 179.66 L97.5 179.72 L97.75 179.78 L98 179.83 L98.25 179.87 L98.5 179.91 L98.75 179.94 L99 179.97 L99.25 179.98 L99.5 179.99 L99.75 179.99 L100 179.96 L100.25 179.93 L100.5 179.88 L100.75 179.81 L101 179.74 L101.25 179.65 L101.5 179.55 L101.75 179.45 L102 179.34 L102.25 179.22 L102.5 179.1 L102.75 178.98 L103 178.86 L103.25 178.74 L103.5 178.62 L103.75 178.51 L104 178.4 L104.25 178.27 L104.5 178.14 L104.75 178 L105 177.85 L105.25 177.69 L105.5 177.53 L105.75 177.37 L106 177.22 L106.25 177.09 L106.5 176.97 L106.75 176.87 L107 176.79 L107.25 176.76 L107.5 176.82 L107.75 177.06 L108 177.63 L108.25 179.04 L108.5 182.41 L108.75 188.37 L109 195.25 L109.25 200.19 L109.5 202.35 L109.75 202.91 L110 202.99 L110.25 203 L110.5 202.91 L110.75 202.08 L111 197.67 L111.25 184.79 L111.5 164.27 L111.75 146.93 L112 142.64 L112.25 152.91 L112.5 172.13 L112.75 190.11 L113 200.12 L113.25 203.68 L113.5 204.83 L113.75 205.46 L114 206.01 L114.25 206.51 L114.5 206.96 L114.75 207.38 L115 207.75 L115.25 208.09 L115.5 208.4 L115.75 208.67 L116 208.91 L116.25 209.12 L116.5 209.3 L116.75 209.46 L117 209.59 L117.25 209.7 L117.5 209.79 L117.75 209.86 L118 209.91 L118.25 209.9 L118.5 209.24 L118.75 204.93 L119 190.13 L119.25 161.84 L119.5 131.78 L119.75 116.61 L120 119.89 L120.25 135.14 L120.5 156.3 L120.75 179.73 L121 202.65 L121.25 222.47 L121.5 237.03 L121.75 245.45 L122 248.92 L122.25 249.84 L122.5 249.99 L122.75 250 L123 250 L123.25 250 L123.5 250 L123.75 250 L124 250 L124.25 250 L124.5 250 L124.75 250 L125 250 L125.25 250 L125.5 250 L125.75 250 L126 250 L126.25 250 L126.5 250 L126.75 250 L127 250 L127.25 250 L127.5 250 L127.75 250 L128 250 L128.25 250 L128.5 250 L128.75 250 L129 249.99 L129.25 249.85 L129.5 248.84 L129.75 244.48 L130 232.67 L130.25 210.85 L130.5 181.34 L130.75 150.64 L131 127.1 L131.25 118.39 L131.5 126.05 L131.75 141.44 L132 153.78 L132.25 160.32 L132.5 163.71 L132.75 165.97 L133 167.93 L133.25 170 L133.5 172.51 L133.75 175.57 L134 179.06 L134.25 182.67 L134.5 186.04 L134.75 188.77 L135 190.52 L135.25 191.11 L135.5 190.6 L135.75 189.24 L136 187.35 L136.25 185.22 L136.5 183.03 L136.75 180.84 L137 178.58 L137.25 176.21 L137.5 173.75 L137.75 171.44 L138 169.76 L138.25 169.07 L138.5 169.09 L138.75 169.35 L139 169.67 L139.25 169.98 L139.5 170.3 L139.75 170.62 L140 170.93 L140.25 171.25 L140.5 171.56 L140.75 171.84 L141 172.02 L141.25 171.99 L141.5 171.7 L141.75 171.14 L142 170.34 L142.25 169.4 L142.5 168.39 L142.75 167.31 L143 166.13 L143.25 164.88 L143.5 163.67 L143.75 162.78 L144 162.72 L144.25 163.78 L144.5 165.59 L144.75 167.68 L145 169.82 L145.25 171.99 L145.5 174.2 L145.75 176.43 L146 178.67 L146.25 180.84 L146.5 182.64 L146.75 183.51 L147 183.13 L147.25 181.9 L147.5 180.4 L147.75 178.9 L148 177.5 L148.25 176.21 L148.5 174.99 L148.75 173.88 L149 172.98 L149.25 172.37 L149.5 171.95 L149.75 171.63 L150 171.41 L150.25 171.33 L150.5 171.38 L150.75 171.49 L151 171.62 L151.25 171.71 L151.5 171.65 L151.75 171.3 L152 170.59 L152.25 169.64 L152.5 168.57 L152.75 167.42 L153 166.19 L153.25 164.85 L153.5 163.5 L153.75 162.33 L154 161.81 L154.25 162.4 L154.5 164.01 L154.75 166.16 L155 168.47 L155.25 170.83 L155.5 173.22 L155.75 175.66 L156 178.11 L156.25 180.52 L156.5 182.71 L156.75 184.17 L157 184.39 L157.25 183.47 L157.5 181.95 L157.75 180.29 L158 178.7 L158.25 177.24 L158.5 175.88 L158.75 174.61 L159 173.52 L159.25 172.7 L159.5 172.14 L159.75 171.74 L160 171.43 L160.25 171.26 L160.5 171.26 L160.75 171.36 L161 171.5 L161.25 171.63 L161.5 171.68 L161.75 171.54 L162 171.08 L162.25 170.32 L162.5 169.39 L162.75 168.39 L163 167.32 L163.25 166.15 L163.5 164.91 L163.75 163.72 L164 162.87 L164.25 162.86 L164.5 163.93 L164.75 165.75 L165 167.81 L165.25 169.93 L165.5 172.08 L165.75 174.27 L166 176.48 L166.25 178.69 L166.5 180.82 L166.75 182.57 L167 183.38 L167.25 182.97 L167.5 181.74 L167.75 180.25 L168 178.77 L168.25 177.39 L168.5 176.12 L168.75 174.92 L169 173.83 L169.25 172.95 L169.5 172.35 L169.75 171.94 L170 171.62 L170.25 171.41 L170.5 171.34 L170.75 171.39 L171 171.51 L171.25 171.63 L171.5 171.72 L171.75 171.68 L172 171.36 L172.25 170.72 L172.5 169.84 L172.75 168.87 L173 167.84 L173.25 166.71 L173.5 165.5 L173.75 164.28 L174 163.23 L174.25 162.8 L174.5 163.37 L174.75 164.86 L175 166.82 L175.25 168.91 L175.5 171.05 L175.75 173.21 L176 175.42 L176.25 177.63 L176.5 179.82 L176.75 181.78 L177 183.07 L177.25 183.22 L177.5 182.35 L177.75 180.96 L178 179.46 L178.25 178.02 L178.5 176.71 L178.75 175.48 L179 174.34 L179.25 173.35 L179.5 172.63 L179.75 172.13 L180 171.77 L180.25 171.5 L180.5 171.35 L180.75 171.35 L181 171.45 L181.25 171.57 L181.5 171.68 L181.75 171.7 L182 171.5 L182.25 170.96 L182.5 170.12 L182.75 169.11 L183 168.03 L183.25 166.86 L183.5 165.58 L183.75 164.24 L184 162.97 L184.25 162.08 L184.5 162.12 L184.75 163.32 L185 165.29 L185.25 167.53 L185.5 169.83 L185.75 172.16 L186 174.53 L186.25 176.93 L186.5 179.33 L186.75 181.63 L187 183.48 L187.25 184.3 L187.5 183.82 L187.75 182.48 L188 180.86 L188.25 179.26 L188.5 177.77 L188.75 176.39 L189 175.1 L189.25 173.93 L189.5 172.99 L189.75 172.34 L190 171.9 L190.25 171.56 L190.5 171.33 L190.75 171.27 L191 171.33 L191.25 171.45 L191.5 171.59 L191.75 171.68 L192 171.64 L192.25 171.3 L192.5 170.61 L192.75 169.68 L193 168.66 L193.25 167.56 L193.5 166.37 L193.75 165.1 L194 163.81 L194.25 162.72 L194.5 162.29 L194.75 162.95 L195 164.55 L195.25 166.62 L195.5 168.83 L195.75 171.08 L196 173.36 L196.25 175.68 L196.5 178.01 L196.75 180.31 L197 182.37 L197.25 183.68 L197.5 183.79 L197.75 182.83 L198 181.36 L198.25 179.78 L198.5 178.28 L198.75 176.89 L199 175.61 L199.25 174.4 L199.5 173.38 L199.75 172.62 L200 172.11 L200.25 171.73 L200.5 171.45 L200.75 171.31 L201 171.31 L201.25 171.41 L201.5 171.54 L201.75 171.66 L202 171.68 L202.25 171.49 L202.5 170.96 L202.75 170.14 L203 169.16 L203.25 168.11 L203.5 166.97 L203.75 165.73 L204 164.43 L204.25 163.2 L204.5 162.37 L204.75 162.45 L205 163.65 L205.25 165.58 L205.5 167.76 L205.75 169.99 L206 172.25 L206.25 174.56 L206.5 176.89 L206.75 179.22 L207 181.43 L207.25 183.19 L207.5 183.94 L207.75 183.43 L208 182.12 L208.25 180.55 L208.5 178.99 L208.75 177.55 L209 176.22 L209.25 174.97 L209.5 173.84 L209.75 172.94 L210 172.32 L210.25 171.9 L210.5 171.57 L210.75 171.35 L211 171.29 L211.25 171.36 L211.5 171.48 L211.75 171.61 L212 171.7 L212.25 171.64 L212.5 171.27 L212.75 170.55 L213 169.59 L213.25 168.54 L213.5 167.42 L213.75 166.21 L214 164.9 L214.25 163.59 L214.5 162.49 L214.75 162.09 L215 162.8 L215.25 164.47 L215.5 166.6 L215.75 168.85 L216 171.15 L216.25 173.48 L216.5 175.84 L216.75 178.22 L217 180.57 L217.25 182.65 L217.5 183.95 L217.75 184.01 L218 183 L218.25 181.48 L218.5 179.87 L218.75 178.34 L219 176.93 L219.25 175.62 L219.5 174.4 L219.75 173.36 L220 172.6 L220.25 172.09 L220.5 171.71 L220.75 171.43 L221 171.29 L221.25 171.3 L221.5 171.4 L221.75 171.53 L222 171.65 L222.25 171.67 L222.5 171.47 L222.75 170.93 L223 170.1 L223.25 169.12 L223.5 168.06 L223.75 166.92 L224 165.67 L224.25 164.37 L224.5 163.16 L224.75 162.36 L225 162.49 L225.25 163.72 L225.5 165.67 L225.75 167.85 L226 170.08 L226.25 172.35 L226.5 174.65 L226.75 176.98 L227 179.31 L227.25 181.51 L227.5 183.23 L227.75 183.93 L228 183.38 L228.25 182.06 L228.5 180.48 L228.75 178.93 L229 177.5 L229.25 176.17 L229.5 174.92 L229.75 173.8 L230 172.91 L230.25 172.3 L230.5 171.88 L230.75 171.56 L231 171.34 L231.25 171.29 L231.5 171.36 L231.75 171.49 L232 171.62 L232.25 171.7 L232.5 171.63 L232.75 171.25 L233 170.52 L233.25 169.55 L233.5 168.5 L233.75 167.37 L234 166.15 L234.25 164.85 L234.5 163.53 L234.75 162.45 L235 162.08 L235.25 162.84 L235.5 164.55 L235.75 166.69 L236 168.94 L236.25 171.24 L236.5 173.57 L236.75 175.94 L237 178.32 L237.25 180.66 L237.5 182.73 L237.75 183.99 L238 183.99 L238.25 182.94 L238.5 181.42 L238.75 179.81 L239 178.28 L239.25 176.88 L239.5 175.57 L239.75 174.35 L240 173.32 L240.25 172.58 L240.5 172.07 L240.75 171.7 L241 171.42 L241.25 171.29 L241.5 171.3 L241.75 171.41 L242 171.54 L242.25 171.65 L242.5 171.67 L242.75 171.45 L243 170.9 L243.25 170.06 L243.5 169.07 L243.75 168.01 L244 166.87 L244.25 165.62 L244.5 164.32 L244.75 163.12 L245 162.36 L245.25 162.53 L245.5 163.8 L245.75 165.75 L246 167.94 L246.25 170.17 L246.5 172.44 L246.75 174.75 L247 177.08 L247.25 179.4 L247.5 181.59 L247.75 183.27 L248 183.91 L248.25 183.33 L248.5 181.99 L248.75 180.42 L249 178.87 L249.25 177.44 L249.5 176.12 L249.75 174.88 L250 173.76 L250.25 172.88 L250.5 172.29 L250.75 171.87 L251 171.54 L251.25 171.34 L251.5 171.29 L251.75 171.37 L252 171.49 L252.25 171.62 L252.5 171.71 L252.75 171.64 L253 171.25 L253.25 170.52 L253.5 169.57 L253.75 168.53 L254 167.42 L254.25 166.22 L254.5 164.94 L254.75 163.65 L255 162.6 L255.25 162.28 L255.5 163.07 L255.75 164.77 L256 166.88 L256.25 169.1 L256.5 171.35 L256.75 173.64 L257 175.96 L257.25 178.29 L257.5 180.58 L257.75 182.6 L258 183.8 L258.25 183.75 L258.5 182.68 L258.75 181.18 L259 179.6 L259.25 178.11 L259.5 176.74 L259.75 175.46 L260 174.26 L260.25 173.26 L260.5 172.54 L260.75 172.06 L261 171.69 L261.25 171.43 L261.5 171.3 L261.75 171.32 L262 171.43 L262.25 171.57 L262.5 171.72 L262.75 171.9 L263 172.06 L263.25 172.16 L263.5 172.19 L263.75 172.2 L264 172.2 L264.25 172.2 L264.5 172.2 L264.75 172.2 L265 172.2 L265.25 172.2 L265.5 172.2 L265.75 172.2 L266 172.2 L266.25 172.2 L266.5 172.2 L266.75 172.2 L267 172.2 L267.25 172.2 L267.5 172.2 L267.75 172.2 L268 172.2 L268.25 172.2 L268.5 172.2 L268.75 172.2 L269 172.2 L269.25 172.2 L269.5 172.2 L269.75 172.2 L270 172.2 L270.25 172.2 L270.5 172.2 L270.75 172.2 L271 172.2 L271.25 172.2 L271.5 172.2 L271.75 172.2 L272 172.2 L272.25 172.2 L272.5 172.2 L272.75 172.2 L273 172.2 L273.25 172.2 L273.5 172.2 L273.75 172.2 L274 172.2 L274.25 172.2 L274.5 172.2 L274.75 172.2 L275 172.2 L275.25 172.2 L275.5 172.2 L275.75 172.2 L276 172.2 L276.25 172.2 L276.5 172.2 L276.75 172.2 L277 172.2" stroke="#e0101a" stroke-width="1.3"/>
</g>
<text x="3" y="16.8" font-size="16" textLength="18.2" lengthAdjust="spacingAndGlyphs" fill="#050505" stroke="#050505" stroke-width="0.15" >(a)</text>
<text transform="translate(42.2 43.2) rotate(-90)" font-size="11.5" text-anchor="middle" fill="#050505" textLength="64.5" lengthAdjust="spacingAndGlyphs" stroke="#050505" stroke-width="0.15">Voltage (mV)</text>
<text x="82.3" y="219.5" font-size="12" textLength="172.5" lengthAdjust="spacingAndGlyphs" fill="#050505" stroke="#050505" stroke-width="0.15" >Time after stimulation offset (ms)</text>
<rect x="201.5" y="18.3" width="7.3" height="3.2" fill="#e0101a"/>
<rect x="201.5" y="29.2" width="7.3" height="3.2" fill="#1a66bd"/>
<text x="213.5" y="23.2" font-size="10" textLength="55.5" lengthAdjust="spacingAndGlyphs" fill="#050505" stroke="#050505" stroke-width="0.25" >Cathodic-first</text>
<text x="213.5" y="33.8" font-size="10" textLength="48.2" lengthAdjust="spacingAndGlyphs" fill="#050505" stroke="#050505" stroke-width="0.25" >Anodic-first</text>
<text x="274.4" y="59.5" font-size="10" textLength="19.2" lengthAdjust="spacingAndGlyphs" fill="#050505" stroke="#050505" stroke-width="0.25" >filter</text>
<text x="260.5" y="123.9" font-size="10" textLength="44.8" lengthAdjust="spacingAndGlyphs" fill="#050505" stroke="#050505" stroke-width="0.25" >invert gain</text>
<path d="M279.6 61.1 C289.6 68.1 290.8 87.1 279.6 95.7" stroke="#161616" stroke-width="1.15" fill="none"/>
<path d="M281.6 94.7 L278.2 96.9 L279.6 93.4 Z" fill="#161616" stroke="#161616" stroke-width="0.5"/>
<path d="M279.6 125.9 C289.6 132.9 290.8 151.9 279.6 160.5" stroke="#161616" stroke-width="1.15" fill="none"/>
<path d="M281.6 159.5 L278.2 161.7 L279.6 158.2 Z" fill="#161616" stroke="#161616" stroke-width="0.5"/>
<path d="M263 45.9 H277.15" stroke="#1a66bd" stroke-width="1.2" stroke-dasharray="2.5 2.5" opacity="0.7"/>
<path d="M263 109.2 H277.15" stroke="#1a66bd" stroke-width="1.2" stroke-dasharray="2.5 2.5" opacity="0.7"/>
<path d="M263 172.2 H277.15" stroke="#1a66bd" stroke-width="1.2" stroke-dasharray="2.5 2.5" opacity="0.7"/>
<line x1="351.5" y1="28.2" x2="351.5" y2="190.5" stroke="#a6a6a6" stroke-width="1"/>
<line x1="351.5" y1="190.5" x2="568.2" y2="190.5" stroke="#a6a6a6" stroke-width="1"/>
<path d="M351.5 190.7 h-2 M351.5 182.15 h-1.3 M351.5 173.6 h-1.3 M351.5 165.05 h-1.3 M351.5 156.5 h-2 M351.5 147.95 h-1.3 M351.5 139.4 h-1.3 M351.5 130.85 h-1.3 M351.5 122.3 h-2 M351.5 113.75 h-1.3 M351.5 105.2 h-1.3 M351.5 96.65 h-1.3 M351.5 88.1 h-2 M351.5 79.55 h-1.3 M351.5 71 h-1.3 M351.5 62.45 h-1.3 M351.5 53.9 h-2 M351.5 45.35 h-1.3 M351.5 36.8 h-1.3 M351.5 28.25 h-1.3 M351.8 190.5 v2 M360.46 190.5 v1.3 M369.11 190.5 v1.3 M377.77 190.5 v1.3 M386.42 190.5 v1.3 M395.08 190.5 v2 M403.74 190.5 v1.3 M412.39 190.5 v1.3 M421.05 190.5 v1.3 M429.7 190.5 v1.3 M438.36 190.5 v2 M447.02 190.5 v1.3 M455.67 190.5 v1.3 M464.33 190.5 v1.3 M472.98 190.5 v1.3 M481.64 190.5 v2 M490.3 190.5 v1.3 M498.95 190.5 v1.3 M507.61 190.5 v1.3 M516.26 190.5 v1.3 M524.92 190.5 v2 M533.58 190.5 v1.3 M542.23 190.5 v1.3 M550.89 190.5 v1.3 M559.54 190.5 v1.3 M568.2 190.5 v2" stroke="#8a8a8a" stroke-width="0.8" fill="none"/>
<text x="348.3" y="194.8" font-size="12" text-anchor="end" fill="#050505" stroke="#050505" stroke-width="0.15" >0.2</text>
<text x="348.3" y="160.6" font-size="12" text-anchor="end" fill="#050505" stroke="#050505" stroke-width="0.15" >0.4</text>
<text x="348.3" y="126.4" font-size="12" text-anchor="end" fill="#050505" stroke="#050505" stroke-width="0.15" >0.6</text>
<text x="348.3" y="92.2" font-size="12" text-anchor="end" fill="#050505" stroke="#050505" stroke-width="0.15" >0.8</text>
<text x="348.3" y="58" font-size="12" text-anchor="end" fill="#050505" stroke="#050505" stroke-width="0.15" >1.0</text>
<text x="351.8" y="206" font-size="12" text-anchor="middle" fill="#050505" stroke="#050505" stroke-width="0.15" >0</text>
<text x="395.08" y="206" font-size="12" text-anchor="middle" fill="#050505" stroke="#050505" stroke-width="0.15" >1</text>
<text x="438.36" y="206" font-size="12" text-anchor="middle" fill="#050505" stroke="#050505" stroke-width="0.15" >2</text>
<text x="481.64" y="206" font-size="12" text-anchor="middle" fill="#050505" stroke="#050505" stroke-width="0.15" >3</text>
<text x="524.92" y="206" font-size="12" text-anchor="middle" fill="#050505" stroke="#050505" stroke-width="0.15" >4</text>
<text x="568.2" y="206" font-size="12" text-anchor="middle" fill="#050505" stroke="#050505" stroke-width="0.15" >5</text>
<text x="374.6" y="219.7" font-size="12" textLength="173" lengthAdjust="spacingAndGlyphs" fill="#050505" stroke="#050505" stroke-width="0.15" >Time after stimulation offset (ms)</text>
<text transform="translate(326.5 114.1) rotate(-90)" font-size="12" text-anchor="middle" fill="#050505" textLength="68.4" lengthAdjust="spacingAndGlyphs" stroke="#050505" stroke-width="0.15">Relative gain</text>
<text x="301" y="18.3" font-size="16" textLength="20.3" lengthAdjust="spacingAndGlyphs" fill="#050505" stroke="#050505" stroke-width="0.15" >(b)</text>
<defs><clipPath id="cb"><rect x="352" y="20" width="220" height="170.7"/></clipPath></defs><g clip-path="url(#cb)">
<path d="M383.3 78.87 V147.27 M381.1 78.87 h4.4 M381.1 147.27 h4.4" stroke="#0a0a0a" stroke-width="1.2" fill="none" stroke-dasharray="1 0.8"/>
<path d="M405.1 49.11 V66.21 M402.9 49.11 h4.4 M402.9 66.21 h4.4" stroke="#0a0a0a" stroke-width="1.2" fill="none" stroke-dasharray="1 0.8"/>
<path d="M426.3 48.77 V59.03 M424.1 48.77 h4.4 M424.1 59.03 h4.4" stroke="#0a0a0a" stroke-width="1.2" fill="none" stroke-dasharray="1 0.8"/>
<path d="M448.1 48.77 V55.61 M445.9 48.77 h4.4 M445.9 55.61 h4.4" stroke="#0a0a0a" stroke-width="1.2" fill="none" stroke-dasharray="1 0.8"/>
<path d="M469.6 46.21 V56.47 M467.4 46.21 h4.4 M467.4 56.47 h4.4" stroke="#0a0a0a" stroke-width="1.2" fill="none" stroke-dasharray="1 0.8"/>
<path d="M491.6 48.77 V55.61 M489.4 48.77 h4.4 M489.4 55.61 h4.4" stroke="#0a0a0a" stroke-width="1.2" fill="none" stroke-dasharray="1 0.8"/>
<path d="M512.6 50.48 V57.32 M510.4 50.48 h4.4 M510.4 57.32 h4.4" stroke="#0a0a0a" stroke-width="1.2" fill="none" stroke-dasharray="1 0.8"/>
<path d="M383.3 113.07 L405.1 57.66 L426.3 53.9 L448.1 52.19 L469.6 51.34 L491.6 52.19 L512.6 53.9" stroke="#0a0a0a" stroke-width="1.35" stroke-dasharray="4 2.6" fill="none"/>
<rect x="381.5" y="111.27" width="3.6" height="3.6" fill="#fff" stroke="#0a0a0a" stroke-width="1.4"/>
<rect x="403.3" y="55.86" width="3.6" height="3.6" fill="#fff" stroke="#0a0a0a" stroke-width="1.4"/>
<rect x="424.5" y="52.1" width="3.6" height="3.6" fill="#fff" stroke="#0a0a0a" stroke-width="1.4"/>
<rect x="446.3" y="50.39" width="3.6" height="3.6" fill="#fff" stroke="#0a0a0a" stroke-width="1.4"/>
<rect x="467.8" y="49.54" width="3.6" height="3.6" fill="#fff" stroke="#0a0a0a" stroke-width="1.4"/>
<rect x="489.8" y="50.39" width="3.6" height="3.6" fill="#fff" stroke="#0a0a0a" stroke-width="1.4"/>
<rect x="510.8" y="52.1" width="3.6" height="3.6" fill="#fff" stroke="#0a0a0a" stroke-width="1.4"/>
<path d="M383.3 41.93 V76.13 M381.1 41.93 h4.4 M381.1 76.13 h4.4" stroke="#0a0a0a" stroke-width="1.2" fill="none"/>
<path d="M405.1 38.51 V55.61 M402.9 38.51 h4.4 M402.9 55.61 h4.4" stroke="#0a0a0a" stroke-width="1.2" fill="none"/>
<path d="M426.3 49.11 V55.95 M424.1 49.11 h4.4 M424.1 55.95 h4.4" stroke="#0a0a0a" stroke-width="1.2" fill="none"/>
<path d="M448.1 48.43 V55.27 M445.9 48.43 h4.4 M445.9 55.27 h4.4" stroke="#0a0a0a" stroke-width="1.2" fill="none"/>
<path d="M469.6 45.18 V55.44 M467.4 45.18 h4.4 M467.4 55.44 h4.4" stroke="#0a0a0a" stroke-width="1.2" fill="none"/>
<path d="M491.6 48.43 V55.27 M489.4 48.43 h4.4 M489.4 55.27 h4.4" stroke="#0a0a0a" stroke-width="1.2" fill="none"/>
<path d="M512.6 49.63 V56.47 M510.4 49.63 h4.4 M510.4 56.47 h4.4" stroke="#0a0a0a" stroke-width="1.2" fill="none"/>
<path d="M383.3 59.03 L405.1 47.06 L426.3 52.53 L448.1 51.85 L469.6 50.31 L491.6 51.85 L512.6 53.05" stroke="#0a0a0a" stroke-width="1.35" fill="none"/>
<circle cx="383.3" cy="59.03" r="2.9" fill="#0a0a0a"/>
<circle cx="405.1" cy="47.06" r="2.9" fill="#0a0a0a"/>
<circle cx="426.3" cy="52.53" r="2.9" fill="#0a0a0a"/>
<circle cx="448.1" cy="51.85" r="2.9" fill="#0a0a0a"/>
<circle cx="469.6" cy="50.31" r="2.9" fill="#0a0a0a"/>
<circle cx="491.6" cy="51.85" r="2.9" fill="#0a0a0a"/>
<circle cx="512.6" cy="53.05" r="2.9" fill="#0a0a0a"/>
<path d="M383.3 129.14 V192.7 M381.1 129.14 h4.4 M381.1 192.7 h4.4" stroke="#4a0c6e" stroke-width="1.2" fill="none" stroke-dasharray="1 0.8"/>
<path d="M405.1 54.93 V82.29 M402.9 54.93 h4.4 M402.9 82.29 h4.4" stroke="#4a0c6e" stroke-width="1.2" fill="none" stroke-dasharray="1 0.8"/>
<path d="M426.3 50.48 V67.58 M424.1 50.48 h4.4 M424.1 67.58 h4.4" stroke="#4a0c6e" stroke-width="1.2" fill="none" stroke-dasharray="1 0.8"/>
<path d="M448.1 47.06 V60.74 M445.9 47.06 h4.4 M445.9 60.74 h4.4" stroke="#4a0c6e" stroke-width="1.2" fill="none" stroke-dasharray="1 0.8"/>
<path d="M469.6 43.64 V57.32 M467.4 43.64 h4.4 M467.4 57.32 h4.4" stroke="#4a0c6e" stroke-width="1.2" fill="none" stroke-dasharray="1 0.8"/>
<path d="M491.6 47.06 V57.32 M489.4 47.06 h4.4 M489.4 57.32 h4.4" stroke="#4a0c6e" stroke-width="1.2" fill="none" stroke-dasharray="1 0.8"/>
<path d="M512.6 48.77 V59.03 M510.4 48.77 h4.4 M510.4 59.03 h4.4" stroke="#4a0c6e" stroke-width="1.2" fill="none" stroke-dasharray="1 0.8"/>
<path d="M383.3 163.34 L405.1 68.61 L426.3 59.03 L448.1 53.9 L469.6 50.48 L491.6 52.19 L512.6 53.9" stroke="#4a0c6e" stroke-width="1.35" stroke-dasharray="4 2.6" fill="none"/>
<rect x="381.5" y="161.54" width="3.6" height="3.6" fill="#fff" stroke="#4a0c6e" stroke-width="1.4"/>
<rect x="403.3" y="66.81" width="3.6" height="3.6" fill="#fff" stroke="#4a0c6e" stroke-width="1.4"/>
<rect x="424.5" y="57.23" width="3.6" height="3.6" fill="#fff" stroke="#4a0c6e" stroke-width="1.4"/>
<rect x="446.3" y="52.1" width="3.6" height="3.6" fill="#fff" stroke="#4a0c6e" stroke-width="1.4"/>
<rect x="467.8" y="48.68" width="3.6" height="3.6" fill="#fff" stroke="#4a0c6e" stroke-width="1.4"/>
<rect x="489.8" y="50.39" width="3.6" height="3.6" fill="#fff" stroke="#4a0c6e" stroke-width="1.4"/>
<rect x="510.8" y="52.1" width="3.6" height="3.6" fill="#fff" stroke="#4a0c6e" stroke-width="1.4"/>
<path d="M383.3 73.56 V128.28 M381.1 73.56 h4.4 M381.1 128.28 h4.4" stroke="#4a0c6e" stroke-width="1.2" fill="none"/>
<path d="M405.1 36.8 V57.32 M402.9 36.8 h4.4 M402.9 57.32 h4.4" stroke="#4a0c6e" stroke-width="1.2" fill="none"/>
<path d="M426.3 43.64 V53.9 M424.1 43.64 h4.4 M424.1 53.9 h4.4" stroke="#4a0c6e" stroke-width="1.2" fill="none"/>
<path d="M448.1 41.93 V55.61 M445.9 41.93 h4.4 M445.9 55.61 h4.4" stroke="#4a0c6e" stroke-width="1.2" fill="none"/>
<path d="M469.6 38.51 V55.61 M467.4 38.51 h4.4 M467.4 55.61 h4.4" stroke="#4a0c6e" stroke-width="1.2" fill="none"/>
<path d="M491.6 44.15 V54.41 M489.4 44.15 h4.4 M489.4 54.41 h4.4" stroke="#4a0c6e" stroke-width="1.2" fill="none"/>
<path d="M512.6 45.86 V56.12 M510.4 45.86 h4.4 M510.4 56.12 h4.4" stroke="#4a0c6e" stroke-width="1.2" fill="none"/>
<path d="M383.3 100.93 L405.1 47.06 L426.3 48.77 L448.1 48.77 L469.6 47.06 L491.6 49.28 L512.6 50.99" stroke="#4a0c6e" stroke-width="1.35" fill="none"/>
<circle cx="383.3" cy="100.93" r="2.9" fill="#4a0c6e"/>
<circle cx="405.1" cy="47.06" r="2.9" fill="#4a0c6e"/>
<circle cx="426.3" cy="48.77" r="2.9" fill="#4a0c6e"/>
<circle cx="448.1" cy="48.77" r="2.9" fill="#4a0c6e"/>
<circle cx="469.6" cy="47.06" r="2.9" fill="#4a0c6e"/>
<circle cx="491.6" cy="49.28" r="2.9" fill="#4a0c6e"/>
<circle cx="512.6" cy="50.99" r="2.9" fill="#4a0c6e"/>
<path d="M383.3 145.38 V189.84 M381.1 145.38 h4.4 M381.1 189.84 h4.4" stroke="#b8184c" stroke-width="1.2" fill="none" stroke-dasharray="1 0.8"/>
<path d="M405.1 72.37 V123.67 M402.9 72.37 h4.4 M402.9 123.67 h4.4" stroke="#b8184c" stroke-width="1.2" fill="none" stroke-dasharray="1 0.8"/>
<path d="M426.3 53.9 V81.26 M424.1 53.9 h4.4 M424.1 81.26 h4.4" stroke="#b8184c" stroke-width="1.2" fill="none" stroke-dasharray="1 0.8"/>
<path d="M448.1 48.77 V65.87 M445.9 48.77 h4.4 M445.9 65.87 h4.4" stroke="#b8184c" stroke-width="1.2" fill="none" stroke-dasharray="1 0.8"/>
<path d="M469.6 43.64 V60.74 M467.4 43.64 h4.4 M467.4 60.74 h4.4" stroke="#b8184c" stroke-width="1.2" fill="none" stroke-dasharray="1 0.8"/>
<path d="M491.6 46.21 V59.89 M489.4 46.21 h4.4 M489.4 59.89 h4.4" stroke="#b8184c" stroke-width="1.2" fill="none" stroke-dasharray="1 0.8"/>
<path d="M512.6 49.63 V59.89 M510.4 49.63 h4.4 M510.4 59.89 h4.4" stroke="#b8184c" stroke-width="1.2" fill="none" stroke-dasharray="1 0.8"/>
<path d="M383.3 167.61 L405.1 98.02 L426.3 67.58 L448.1 57.32 L469.6 52.19 L491.6 53.05 L512.6 54.76" stroke="#b8184c" stroke-width="1.35" stroke-dasharray="4 2.6" fill="none"/>
<rect x="381.5" y="165.81" width="3.6" height="3.6" fill="#fff" stroke="#b8184c" stroke-width="1.4"/>
<rect x="403.3" y="96.22" width="3.6" height="3.6" fill="#fff" stroke="#b8184c" stroke-width="1.4"/>
<rect x="424.5" y="65.78" width="3.6" height="3.6" fill="#fff" stroke="#b8184c" stroke-width="1.4"/>
<rect x="446.3" y="55.52" width="3.6" height="3.6" fill="#fff" stroke="#b8184c" stroke-width="1.4"/>
<rect x="467.8" y="50.39" width="3.6" height="3.6" fill="#fff" stroke="#b8184c" stroke-width="1.4"/>
<rect x="489.8" y="51.25" width="3.6" height="3.6" fill="#fff" stroke="#b8184c" stroke-width="1.4"/>
<rect x="510.8" y="52.96" width="3.6" height="3.6" fill="#fff" stroke="#b8184c" stroke-width="1.4"/>
<path d="M383.3 113.75 V188.99 M381.1 113.75 h4.4 M381.1 188.99 h4.4" stroke="#b8184c" stroke-width="1.2" fill="none"/>
<path d="M405.1 52.19 V93.23 M402.9 52.19 h4.4 M402.9 93.23 h4.4" stroke="#b8184c" stroke-width="1.2" fill="none"/>
<path d="M426.3 45.35 V65.87 M424.1 45.35 h4.4 M424.1 65.87 h4.4" stroke="#b8184c" stroke-width="1.2" fill="none"/>
<path d="M448.1 44.5 V61.6 M445.9 44.5 h4.4 M445.9 61.6 h4.4" stroke="#b8184c" stroke-width="1.2" fill="none"/>
<path d="M469.6 40.22 V57.32 M467.4 40.22 h4.4 M467.4 57.32 h4.4" stroke="#b8184c" stroke-width="1.2" fill="none"/>
<path d="M491.6 44.5 V58.18 M489.4 44.5 h4.4 M489.4 58.18 h4.4" stroke="#b8184c" stroke-width="1.2" fill="none"/>
<path d="M512.6 48.77 V59.03 M510.4 48.77 h4.4 M510.4 59.03 h4.4" stroke="#b8184c" stroke-width="1.2" fill="none"/>
<path d="M383.3 151.37 L405.1 72.71 L426.3 55.61 L448.1 53.05 L469.6 48.77 L491.6 51.34 L512.6 53.9" stroke="#b8184c" stroke-width="1.35" fill="none"/>
<circle cx="383.3" cy="151.37" r="2.9" fill="#b8184c"/>
<circle cx="405.1" cy="72.71" r="2.9" fill="#b8184c"/>
<circle cx="426.3" cy="55.61" r="2.9" fill="#b8184c"/>
<circle cx="448.1" cy="53.05" r="2.9" fill="#b8184c"/>
<circle cx="469.6" cy="48.77" r="2.9" fill="#b8184c"/>
<circle cx="491.6" cy="51.34" r="2.9" fill="#b8184c"/>
<circle cx="512.6" cy="53.9" r="2.9" fill="#b8184c"/>
<path d="M383.3 164.02 V184.54 M381.1 164.02 h4.4 M381.1 184.54 h4.4" stroke="#ff8000" stroke-width="1.2" fill="none" stroke-dasharray="1 0.8"/>
<path d="M405.1 92.38 V164.19 M402.9 92.38 h4.4 M402.9 164.19 h4.4" stroke="#ff8000" stroke-width="1.2" fill="none" stroke-dasharray="1 0.8"/>
<path d="M426.3 70.32 V121.62 M424.1 70.32 h4.4 M424.1 121.62 h4.4" stroke="#ff8000" stroke-width="1.2" fill="none" stroke-dasharray="1 0.8"/>
<path d="M448.1 52.19 V86.39 M445.9 52.19 h4.4 M445.9 86.39 h4.4" stroke="#ff8000" stroke-width="1.2" fill="none" stroke-dasharray="1 0.8"/>
<path d="M469.6 43.64 V67.58 M467.4 43.64 h4.4 M467.4 67.58 h4.4" stroke="#ff8000" stroke-width="1.2" fill="none" stroke-dasharray="1 0.8"/>
<path d="M491.6 43.64 V64.16 M489.4 43.64 h4.4 M489.4 64.16 h4.4" stroke="#ff8000" stroke-width="1.2" fill="none" stroke-dasharray="1 0.8"/>
<path d="M512.6 47.92 V65.02 M510.4 47.92 h4.4 M510.4 65.02 h4.4" stroke="#ff8000" stroke-width="1.2" fill="none" stroke-dasharray="1 0.8"/>
<path d="M383.3 174.28 L405.1 128.28 L426.3 95.97 L448.1 69.29 L469.6 55.61 L491.6 53.9 L512.6 56.47" stroke="#ff8000" stroke-width="1.35" stroke-dasharray="4 2.6" fill="none"/>
<rect x="381.5" y="172.48" width="3.6" height="3.6" fill="#fff" stroke="#ff8000" stroke-width="1.4"/>
<rect x="403.3" y="126.48" width="3.6" height="3.6" fill="#fff" stroke="#ff8000" stroke-width="1.4"/>
<rect x="424.5" y="94.17" width="3.6" height="3.6" fill="#fff" stroke="#ff8000" stroke-width="1.4"/>
<rect x="446.3" y="67.49" width="3.6" height="3.6" fill="#fff" stroke="#ff8000" stroke-width="1.4"/>
<rect x="467.8" y="53.81" width="3.6" height="3.6" fill="#fff" stroke="#ff8000" stroke-width="1.4"/>
<rect x="489.8" y="52.1" width="3.6" height="3.6" fill="#fff" stroke="#ff8000" stroke-width="1.4"/>
<rect x="510.8" y="54.67" width="3.6" height="3.6" fill="#fff" stroke="#ff8000" stroke-width="1.4"/>
<path d="M383.3 126.57 V184.71 M381.1 126.57 h4.4 M381.1 184.71 h4.4" stroke="#ff8000" stroke-width="1.2" fill="none"/>
<path d="M405.1 83.48 V145.04 M402.9 83.48 h4.4 M402.9 145.04 h4.4" stroke="#ff8000" stroke-width="1.2" fill="none"/>
<path d="M426.3 55.27 V109.99 M424.1 55.27 h4.4 M424.1 109.99 h4.4" stroke="#ff8000" stroke-width="1.2" fill="none"/>
<path d="M448.1 42.61 V83.65 M445.9 42.61 h4.4 M445.9 83.65 h4.4" stroke="#ff8000" stroke-width="1.2" fill="none"/>
<path d="M469.6 42.27 V62.79 M467.4 42.27 h4.4 M467.4 62.79 h4.4" stroke="#ff8000" stroke-width="1.2" fill="none"/>
<path d="M491.6 41.93 V62.45 M489.4 41.93 h4.4 M489.4 62.45 h4.4" stroke="#ff8000" stroke-width="1.2" fill="none"/>
<path d="M512.6 43.64 V67.58 M510.4 43.64 h4.4 M510.4 67.58 h4.4" stroke="#ff8000" stroke-width="1.2" fill="none"/>
<path d="M383.3 155.64 L405.1 114.26 L426.3 82.63 L448.1 63.13 L469.6 52.53 L491.6 52.19 L512.6 55.61" stroke="#ff8000" stroke-width="1.35" fill="none"/>
<circle cx="383.3" cy="155.64" r="2.9" fill="#ff8000"/>
<circle cx="405.1" cy="114.26" r="2.9" fill="#ff8000"/>
<circle cx="426.3" cy="82.63" r="2.9" fill="#ff8000"/>
<circle cx="448.1" cy="63.13" r="2.9" fill="#ff8000"/>
<circle cx="469.6" cy="52.53" r="2.9" fill="#ff8000"/>
<circle cx="491.6" cy="52.19" r="2.9" fill="#ff8000"/>
<circle cx="512.6" cy="55.61" r="2.9" fill="#ff8000"/>
</g>
<path d="M472.1 113.8 H491.9" stroke="#1a1a1a" stroke-width="1.6"/><circle cx="481.8" cy="113.8" r="2.5" fill="#000"/>
<path d="M472.1 125.1 H479 M485 125.1 H491.9" stroke="#1a1a1a" stroke-width="1.3" stroke-dasharray="2.2 1.8"/><rect x="479.4" y="122.9" width="4.6" height="4.4" fill="#fff" stroke="#111" stroke-width="1.2"/><path d="M480.5 125.1 H483.5" stroke="#111" stroke-width="0.9"/>
<text x="494.7" y="116.5" font-size="10" textLength="55.1" lengthAdjust="spacingAndGlyphs" fill="#050505" stroke="#050505" stroke-width="0.25" >Cathodic-first</text>
<text x="494.7" y="128.4" font-size="10" textLength="47.2" lengthAdjust="spacingAndGlyphs" fill="#050505" stroke="#050505" stroke-width="0.25" >Anodic-first</text>
<rect x="478.9" y="135.1" width="7.1" height="3" fill="#0a0a0a"/>
<text x="494.9" y="139.9" font-size="10" textLength="20.9" lengthAdjust="spacingAndGlyphs" fill="#050505" stroke="#050505" stroke-width="0.25" >10&#956;A</text>
<rect x="478.9" y="147.07" width="7.1" height="3" fill="#4a0c6e"/>
<text x="494.9" y="151.87" font-size="10" textLength="20.9" lengthAdjust="spacingAndGlyphs" fill="#050505" stroke="#050505" stroke-width="0.25" >25&#956;A</text>
<rect x="478.9" y="159.04" width="7.1" height="3" fill="#b8184c"/>
<text x="494.9" y="163.84" font-size="10" textLength="20.9" lengthAdjust="spacingAndGlyphs" fill="#050505" stroke="#050505" stroke-width="0.25" >50&#956;A</text>
<rect x="478.9" y="171.01" width="7.1" height="3" fill="#ff8000"/>
<text x="494.9" y="175.81" font-size="10" textLength="25.9" lengthAdjust="spacingAndGlyphs" fill="#050505" stroke="#050505" stroke-width="0.25" >100&#956;A</text>
<line x1="211.5" y1="255.6" x2="211.5" y2="417.5" stroke="#a6a6a6" stroke-width="1"/>
<line x1="211.5" y1="417.5" x2="427.1" y2="417.5" stroke="#a6a6a6" stroke-width="1"/>
<path d="M211.5 417.8 h-2 M211.5 409.69 h-1.3 M211.5 401.58 h-1.3 M211.5 393.47 h-1.3 M211.5 385.36 h-2 M211.5 377.25 h-1.3 M211.5 369.14 h-1.3 M211.5 361.03 h-1.3 M211.5 352.92 h-2 M211.5 344.81 h-1.3 M211.5 336.7 h-1.3 M211.5 328.59 h-1.3 M211.5 320.48 h-2 M211.5 312.37 h-1.3 M211.5 304.26 h-1.3 M211.5 296.15 h-1.3 M211.5 288.04 h-2 M211.5 279.93 h-1.3 M211.5 271.82 h-1.3 M211.5 263.71 h-1.3 M211.5 255.6 h-2 M211.1 417.5 v2 M219.74 417.5 v1.3 M228.38 417.5 v1.3 M237.02 417.5 v1.3 M245.66 417.5 v1.3 M254.3 417.5 v2 M262.94 417.5 v1.3 M271.58 417.5 v1.3 M280.22 417.5 v1.3 M288.86 417.5 v1.3 M297.5 417.5 v2 M306.14 417.5 v1.3 M314.78 417.5 v1.3 M323.42 417.5 v1.3 M332.06 417.5 v1.3 M340.7 417.5 v2 M349.34 417.5 v1.3 M357.98 417.5 v1.3 M366.62 417.5 v1.3 M375.26 417.5 v1.3 M383.9 417.5 v2 M392.54 417.5 v1.3 M401.18 417.5 v1.3 M409.82 417.5 v1.3 M418.46 417.5 v1.3 M427.1 417.5 v2" stroke="#8a8a8a" stroke-width="0.8" fill="none"/>
<text x="207.2" y="422.1" font-size="12" text-anchor="end" fill="#050505" stroke="#050505" stroke-width="0.15" >0.0</text>
<text x="207.2" y="389.66" font-size="12" text-anchor="end" fill="#050505" stroke="#050505" stroke-width="0.15" >0.2</text>
<text x="207.2" y="357.22" font-size="12" text-anchor="end" fill="#050505" stroke="#050505" stroke-width="0.15" >0.4</text>
<text x="207.2" y="324.78" font-size="12" text-anchor="end" fill="#050505" stroke="#050505" stroke-width="0.15" >0.6</text>
<text x="207.2" y="292.34" font-size="12" text-anchor="end" fill="#050505" stroke="#050505" stroke-width="0.15" >0.8</text>
<text x="207.2" y="259.9" font-size="12" text-anchor="end" fill="#050505" stroke="#050505" stroke-width="0.15" >1.0</text>
<text x="211.6" y="433.5" font-size="12" text-anchor="middle" fill="#050505" stroke="#050505" stroke-width="0.15" >0</text>
<text x="254.8" y="433.5" font-size="12" text-anchor="middle" fill="#050505" stroke="#050505" stroke-width="0.15" >1</text>
<text x="298" y="433.5" font-size="12" text-anchor="middle" fill="#050505" stroke="#050505" stroke-width="0.15" >2</text>
<text x="341.2" y="433.5" font-size="12" text-anchor="middle" fill="#050505" stroke="#050505" stroke-width="0.15" >3</text>
<text x="384.4" y="433.5" font-size="12" text-anchor="middle" fill="#050505" stroke="#050505" stroke-width="0.15" >4</text>
<text x="427.6" y="433.5" font-size="12" text-anchor="middle" fill="#050505" stroke="#050505" stroke-width="0.15" >5</text>
<text x="229.2" y="447.3" font-size="12" textLength="172.2" lengthAdjust="spacingAndGlyphs" fill="#050505" stroke="#050505" stroke-width="0.15" >Time after stimulation offset (ms)</text>
<text transform="translate(183.8 336) rotate(-90)" font-size="11.5" text-anchor="middle" fill="#050505" textLength="147.3" lengthAdjust="spacingAndGlyphs" stroke="#050505" stroke-width="0.15">Proportion spikes recovered</text>
<text x="150.3" y="243.6" font-size="16" textLength="18.4" lengthAdjust="spacingAndGlyphs" fill="#050505" stroke="#050505" stroke-width="0.15" >(c)</text>
<path d="M232.7 417.8 L254.3 414.56 L275.9 351.46 L297.5 297.93 L319.1 269.55 L340.7 257.22 L362.3 259.33 L383.9 257.22 L405.5 255.92 L427.1 256.57" stroke="#0a0a0a" stroke-width="1.4" stroke-dasharray="4 2.8" fill="none"/>
<rect x="231.1" y="416.2" width="3.2" height="3.2" fill="#fff" stroke="#0a0a0a" stroke-width="1.1"/>
<rect x="252.7" y="412.96" width="3.2" height="3.2" fill="#fff" stroke="#0a0a0a" stroke-width="1.1"/>
<rect x="274.3" y="349.86" width="3.2" height="3.2" fill="#fff" stroke="#0a0a0a" stroke-width="1.1"/>
<rect x="295.9" y="296.33" width="3.2" height="3.2" fill="#fff" stroke="#0a0a0a" stroke-width="1.1"/>
<rect x="317.5" y="267.95" width="3.2" height="3.2" fill="#fff" stroke="#0a0a0a" stroke-width="1.1"/>
<rect x="339.1" y="255.62" width="3.2" height="3.2" fill="#fff" stroke="#0a0a0a" stroke-width="1.1"/>
<rect x="360.7" y="257.73" width="3.2" height="3.2" fill="#fff" stroke="#0a0a0a" stroke-width="1.1"/>
<rect x="382.3" y="255.62" width="3.2" height="3.2" fill="#fff" stroke="#0a0a0a" stroke-width="1.1"/>
<rect x="403.9" y="254.32" width="3.2" height="3.2" fill="#fff" stroke="#0a0a0a" stroke-width="1.1"/>
<rect x="425.5" y="254.97" width="3.2" height="3.2" fill="#fff" stroke="#0a0a0a" stroke-width="1.1"/>
<path d="M232.7 401.58 L254.3 279.28 L275.9 270.85 L297.5 265.82 L319.1 267.44 L340.7 268.58 L362.3 263.71 L383.9 262.09 L405.5 262.09 L427.1 269.87" stroke="#0a0a0a" stroke-width="1.4" fill="none"/>
<circle cx="232.7" cy="401.58" r="2.2" fill="#0a0a0a"/>
<circle cx="254.3" cy="279.28" r="2.2" fill="#0a0a0a"/>
<circle cx="275.9" cy="270.85" r="2.2" fill="#0a0a0a"/>
<circle cx="297.5" cy="265.82" r="2.2" fill="#0a0a0a"/>
<circle cx="319.1" cy="267.44" r="2.2" fill="#0a0a0a"/>
<circle cx="340.7" cy="268.58" r="2.2" fill="#0a0a0a"/>
<circle cx="362.3" cy="263.71" r="2.2" fill="#0a0a0a"/>
<circle cx="383.9" cy="262.09" r="2.2" fill="#0a0a0a"/>
<circle cx="405.5" cy="262.09" r="2.2" fill="#0a0a0a"/>
<circle cx="427.1" cy="269.87" r="2.2" fill="#0a0a0a"/>
<path d="M232.7 417.8 L254.3 413.26 L275.9 402.88 L297.5 361.19 L319.1 314.8 L340.7 306.69 L362.3 303.94 L383.9 299.56 L405.5 285.28 L427.1 276.36" stroke="#4a0c6e" stroke-width="1.4" stroke-dasharray="4 2.8" fill="none"/>
<rect x="231.1" y="416.2" width="3.2" height="3.2" fill="#fff" stroke="#4a0c6e" stroke-width="1.1"/>
<rect x="252.7" y="411.66" width="3.2" height="3.2" fill="#fff" stroke="#4a0c6e" stroke-width="1.1"/>
<rect x="274.3" y="401.28" width="3.2" height="3.2" fill="#fff" stroke="#4a0c6e" stroke-width="1.1"/>
<rect x="295.9" y="359.59" width="3.2" height="3.2" fill="#fff" stroke="#4a0c6e" stroke-width="1.1"/>
<rect x="317.5" y="313.2" width="3.2" height="3.2" fill="#fff" stroke="#4a0c6e" stroke-width="1.1"/>
<rect x="339.1" y="305.09" width="3.2" height="3.2" fill="#fff" stroke="#4a0c6e" stroke-width="1.1"/>
<rect x="360.7" y="302.34" width="3.2" height="3.2" fill="#fff" stroke="#4a0c6e" stroke-width="1.1"/>
<rect x="382.3" y="297.96" width="3.2" height="3.2" fill="#fff" stroke="#4a0c6e" stroke-width="1.1"/>
<rect x="403.9" y="283.68" width="3.2" height="3.2" fill="#fff" stroke="#4a0c6e" stroke-width="1.1"/>
<rect x="425.5" y="274.76" width="3.2" height="3.2" fill="#fff" stroke="#4a0c6e" stroke-width="1.1"/>
<path d="M232.7 417.8 L254.3 293.72 L275.9 255.6 L297.5 284.47 L319.1 275.06 L340.7 255.6 L362.3 264.36 L383.9 255.6 L405.5 262.09 L427.1 269.87" stroke="#4a0c6e" stroke-width="1.4" fill="none"/>
<circle cx="232.7" cy="417.8" r="2.2" fill="#4a0c6e"/>
<circle cx="254.3" cy="293.72" r="2.2" fill="#4a0c6e"/>
<circle cx="275.9" cy="255.6" r="2.2" fill="#4a0c6e"/>
<circle cx="297.5" cy="284.47" r="2.2" fill="#4a0c6e"/>
<circle cx="319.1" cy="275.06" r="2.2" fill="#4a0c6e"/>
<circle cx="340.7" cy="255.6" r="2.2" fill="#4a0c6e"/>
<circle cx="362.3" cy="264.36" r="2.2" fill="#4a0c6e"/>
<circle cx="383.9" cy="255.6" r="2.2" fill="#4a0c6e"/>
<circle cx="405.5" cy="262.09" r="2.2" fill="#4a0c6e"/>
<circle cx="427.1" cy="269.87" r="2.2" fill="#4a0c6e"/>
<path d="M232.7 417.8 L254.3 417.8 L275.9 417.8 L297.5 410.34 L319.1 380.82 L340.7 349.68 L362.3 323.89 L383.9 305.88 L405.5 289.01 L427.1 285.93" stroke="#b8184c" stroke-width="1.4" stroke-dasharray="4 2.8" fill="none"/>
<rect x="231.1" y="416.2" width="3.2" height="3.2" fill="#fff" stroke="#b8184c" stroke-width="1.1"/>
<rect x="252.7" y="416.2" width="3.2" height="3.2" fill="#fff" stroke="#b8184c" stroke-width="1.1"/>
<rect x="274.3" y="416.2" width="3.2" height="3.2" fill="#fff" stroke="#b8184c" stroke-width="1.1"/>
<rect x="295.9" y="408.74" width="3.2" height="3.2" fill="#fff" stroke="#b8184c" stroke-width="1.1"/>
<rect x="317.5" y="379.22" width="3.2" height="3.2" fill="#fff" stroke="#b8184c" stroke-width="1.1"/>
<rect x="339.1" y="348.08" width="3.2" height="3.2" fill="#fff" stroke="#b8184c" stroke-width="1.1"/>
<rect x="360.7" y="322.29" width="3.2" height="3.2" fill="#fff" stroke="#b8184c" stroke-width="1.1"/>
<rect x="382.3" y="304.28" width="3.2" height="3.2" fill="#fff" stroke="#b8184c" stroke-width="1.1"/>
<rect x="403.9" y="287.41" width="3.2" height="3.2" fill="#fff" stroke="#b8184c" stroke-width="1.1"/>
<rect x="425.5" y="284.33" width="3.2" height="3.2" fill="#fff" stroke="#b8184c" stroke-width="1.1"/>
<path d="M232.7 417.8 L254.3 313.99 L275.9 280.09 L297.5 279.28 L319.1 275.55 L340.7 270.85 L362.3 274.25 L383.9 270.85 L405.5 257.22 L427.1 271.01" stroke="#b8184c" stroke-width="1.4" fill="none"/>
<circle cx="232.7" cy="417.8" r="2.2" fill="#b8184c"/>
<circle cx="254.3" cy="313.99" r="2.2" fill="#b8184c"/>
<circle cx="275.9" cy="280.09" r="2.2" fill="#b8184c"/>
<circle cx="297.5" cy="279.28" r="2.2" fill="#b8184c"/>
<circle cx="319.1" cy="275.55" r="2.2" fill="#b8184c"/>
<circle cx="340.7" cy="270.85" r="2.2" fill="#b8184c"/>
<circle cx="362.3" cy="274.25" r="2.2" fill="#b8184c"/>
<circle cx="383.9" cy="270.85" r="2.2" fill="#b8184c"/>
<circle cx="405.5" cy="257.22" r="2.2" fill="#b8184c"/>
<circle cx="427.1" cy="271.01" r="2.2" fill="#b8184c"/>
<path d="M232.7 417.8 L254.3 417.8 L275.9 417.8 L297.5 417.8 L319.1 416.34 L340.7 376.76 L362.3 330.05 L383.9 331.02 L405.5 309.45 L427.1 300.69" stroke="#ff8000" stroke-width="1.4" stroke-dasharray="4 2.8" fill="none"/>
<rect x="231.1" y="416.2" width="3.2" height="3.2" fill="#fff" stroke="#ff8000" stroke-width="1.1"/>
<rect x="252.7" y="416.2" width="3.2" height="3.2" fill="#fff" stroke="#ff8000" stroke-width="1.1"/>
<rect x="274.3" y="416.2" width="3.2" height="3.2" fill="#fff" stroke="#ff8000" stroke-width="1.1"/>
<rect x="295.9" y="416.2" width="3.2" height="3.2" fill="#fff" stroke="#ff8000" stroke-width="1.1"/>
<rect x="317.5" y="414.74" width="3.2" height="3.2" fill="#fff" stroke="#ff8000" stroke-width="1.1"/>
<rect x="339.1" y="375.16" width="3.2" height="3.2" fill="#fff" stroke="#ff8000" stroke-width="1.1"/>
<rect x="360.7" y="328.45" width="3.2" height="3.2" fill="#fff" stroke="#ff8000" stroke-width="1.1"/>
<rect x="382.3" y="329.42" width="3.2" height="3.2" fill="#fff" stroke="#ff8000" stroke-width="1.1"/>
<rect x="403.9" y="307.85" width="3.2" height="3.2" fill="#fff" stroke="#ff8000" stroke-width="1.1"/>
<rect x="425.5" y="299.09" width="3.2" height="3.2" fill="#fff" stroke="#ff8000" stroke-width="1.1"/>
<path d="M232.7 414.88 L254.3 358.76 L275.9 281.39 L297.5 299.23 L319.1 310.75 L340.7 289.01 L362.3 287.55 L383.9 274.25 L405.5 286.42 L427.1 300.69" stroke="#ff8000" stroke-width="1.4" fill="none"/>
<circle cx="232.7" cy="414.88" r="2.2" fill="#ff8000"/>
<circle cx="254.3" cy="358.76" r="2.2" fill="#ff8000"/>
<circle cx="275.9" cy="281.39" r="2.2" fill="#ff8000"/>
<circle cx="297.5" cy="299.23" r="2.2" fill="#ff8000"/>
<circle cx="319.1" cy="310.75" r="2.2" fill="#ff8000"/>
<circle cx="340.7" cy="289.01" r="2.2" fill="#ff8000"/>
<circle cx="362.3" cy="287.55" r="2.2" fill="#ff8000"/>
<circle cx="383.9" cy="274.25" r="2.2" fill="#ff8000"/>
<circle cx="405.5" cy="286.42" r="2.2" fill="#ff8000"/>
<circle cx="427.1" cy="300.69" r="2.2" fill="#ff8000"/>
<path d="M369.9 339.7 H390.1" stroke="#111" stroke-width="1.3"/><circle cx="380.5" cy="339.7" r="2.3" fill="#000"/>
<path d="M370 357.3 H374 M386.3 357.3 H390.1" stroke="#111" stroke-width="1.3"/><rect x="378" y="355.2" width="4.9" height="4.2" fill="#fff" stroke="#111" stroke-width="1.2"/><path d="M378.6 357.3 H382.3" stroke="#111" stroke-width="0.9"/>
<text x="392.7" y="343.2" font-size="10" textLength="15.9" lengthAdjust="spacingAndGlyphs" fill="#050505" stroke="#050505" stroke-width="0.25" >RRA</text>
<text x="392.7" y="355.3" font-size="10" textLength="60.2" lengthAdjust="spacingAndGlyphs" fill="#050505" stroke="#050505" stroke-width="0.25" >Blackrock Stim</text>
<text x="392.7" y="366.8" font-size="10" textLength="43.7" lengthAdjust="spacingAndGlyphs" fill="#050505" stroke="#050505" stroke-width="0.25" >Headstage</text>
<rect x="376.9" y="376.1" width="6.9" height="3" fill="#0a0a0a"/>
<text x="392.7" y="380.7" font-size="10" textLength="20.9" lengthAdjust="spacingAndGlyphs" fill="#050505" stroke="#050505" stroke-width="0.25" >10&#956;A</text>
<rect x="376.9" y="388" width="6.9" height="3" fill="#4a0c6e"/>
<text x="392.7" y="392.6" font-size="10" textLength="20.9" lengthAdjust="spacingAndGlyphs" fill="#050505" stroke="#050505" stroke-width="0.25" >25&#956;A</text>
<rect x="376.9" y="399.9" width="6.9" height="3" fill="#b8184c"/>
<text x="392.7" y="404.5" font-size="10" textLength="20.9" lengthAdjust="spacingAndGlyphs" fill="#050505" stroke="#050505" stroke-width="0.25" >50&#956;A</text>
<rect x="376.9" y="411.8" width="6.9" height="3" fill="#ff8000"/>
<text x="392.7" y="416.4" font-size="10" textLength="26.4" lengthAdjust="spacingAndGlyphs" fill="#050505" stroke="#050505" stroke-width="0.25" >100&#956;A</text>
</svg></body></html>
